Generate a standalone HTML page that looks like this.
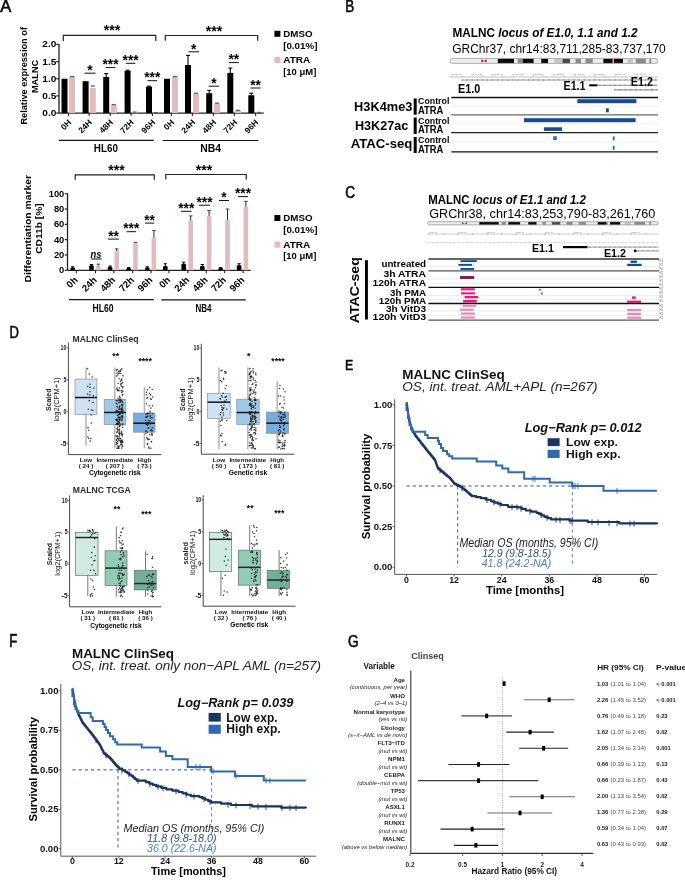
<!DOCTYPE html>
<html><head><meta charset="utf-8"><style>
html,body{margin:0;padding:0;background:#fff;}
svg{display:block;font-family:"Liberation Sans",sans-serif;will-change:transform;}
</style></head><body>
<svg width="685" height="880" viewBox="0 0 685 880">
<rect width="685" height="880" fill="#fff"/>
<text x="0.3" y="11.9" font-size="16.86" textLength="11" lengthAdjust="spacingAndGlyphs" stroke="#000" stroke-width="0.6" fill="#111">A</text>
<text x="345.3" y="11.7" font-size="16.57" textLength="9" lengthAdjust="spacingAndGlyphs" stroke="#000" stroke-width="0.6" fill="#111">B</text>
<text x="345.3" y="197.8" font-size="15.7" textLength="9.8" lengthAdjust="spacingAndGlyphs" stroke="#000" stroke-width="0.6" fill="#111">C</text>
<text x="9.6" y="337.7" font-size="16.13" textLength="9.4" lengthAdjust="spacingAndGlyphs" stroke="#000" stroke-width="0.6" fill="#111">D</text>
<text x="345" y="370.1" font-size="15.41" textLength="8.2" lengthAdjust="spacingAndGlyphs" stroke="#000" stroke-width="0.6" fill="#111">E</text>
<text x="9.3" y="646.8" font-size="17.44" textLength="8" lengthAdjust="spacingAndGlyphs" stroke="#000" stroke-width="0.6" fill="#111">F</text>
<text x="348" y="646.9" font-size="16.13" textLength="10.6" lengthAdjust="spacingAndGlyphs" stroke="#000" stroke-width="0.6" fill="#111">G</text>
<line x1="59" y1="44.1" x2="59" y2="113.1" stroke="#222" stroke-width="1.3"/>
<line x1="56.2" y1="113.1" x2="59" y2="113.1" stroke="#222" stroke-width="1.2"/>
<text x="42.3" y="116.06" font-size="8.6" textLength="14" lengthAdjust="spacingAndGlyphs" font-weight="bold">0.0</text>
<line x1="56.2" y1="95.92" x2="59" y2="95.92" stroke="#222" stroke-width="1.2"/>
<text x="42.3" y="98.88" font-size="8.6" textLength="14" lengthAdjust="spacingAndGlyphs" font-weight="bold">0.5</text>
<line x1="56.2" y1="78.75" x2="59" y2="78.75" stroke="#222" stroke-width="1.2"/>
<text x="42.3" y="81.71" font-size="8.6" textLength="14" lengthAdjust="spacingAndGlyphs" font-weight="bold">1.0</text>
<line x1="56.2" y1="61.57" x2="59" y2="61.57" stroke="#222" stroke-width="1.2"/>
<text x="42.3" y="64.53" font-size="8.6" textLength="14" lengthAdjust="spacingAndGlyphs" font-weight="bold">1.5</text>
<line x1="56.2" y1="44.4" x2="59" y2="44.4" stroke="#222" stroke-width="1.2"/>
<text x="42.3" y="47.36" font-size="8.6" textLength="14" lengthAdjust="spacingAndGlyphs" font-weight="bold">2.0</text>
<text x="27.3" y="75.8" font-size="9.1" font-weight="bold" text-anchor="middle" textLength="97.5" lengthAdjust="spacingAndGlyphs" transform="rotate(-90 27.3 75.8)">Relative expression of</text>
<text x="38" y="76.4" font-size="9.4" font-weight="bold" text-anchor="middle" textLength="33.4" lengthAdjust="spacingAndGlyphs" transform="rotate(-90 38 76.4)">MALNC</text>
<line x1="59" y1="113.1" x2="263.8" y2="113.1" stroke="#222" stroke-width="1.3"/>
<rect x="61.5" y="78.75" width="6" height="34.35" fill="#000"/>
<rect x="82.6" y="81.15" width="6" height="31.95" fill="#000"/>
<rect x="103.2" y="77.03" width="6" height="36.07" fill="#000"/>
<line x1="106.2" y1="73.6" x2="106.2" y2="77.03" stroke="#000" stroke-width="1.1"/>
<line x1="104.2" y1="73.6" x2="108.2" y2="73.6" stroke="#000" stroke-width="1.1"/>
<rect x="124.6" y="70.85" width="6" height="42.25" fill="#000"/>
<line x1="127.6" y1="70.16" x2="127.6" y2="70.85" stroke="#000" stroke-width="1.1"/>
<line x1="125.6" y1="70.16" x2="129.6" y2="70.16" stroke="#000" stroke-width="1.1"/>
<rect x="146" y="86.65" width="6" height="26.45" fill="#000"/>
<line x1="149" y1="86.14" x2="149" y2="86.65" stroke="#000" stroke-width="1.1"/>
<line x1="147" y1="86.14" x2="151" y2="86.14" stroke="#000" stroke-width="1.1"/>
<rect x="164" y="78.75" width="6" height="34.35" fill="#000"/>
<rect x="185" y="65.01" width="6" height="48.09" fill="#000"/>
<line x1="188" y1="55.39" x2="188" y2="65.01" stroke="#000" stroke-width="1.1"/>
<line x1="186" y1="55.39" x2="190" y2="55.39" stroke="#000" stroke-width="1.1"/>
<rect x="206.2" y="93.18" width="6" height="19.92" fill="#000"/>
<line x1="209.2" y1="90.43" x2="209.2" y2="93.18" stroke="#000" stroke-width="1.1"/>
<line x1="207.2" y1="90.43" x2="211.2" y2="90.43" stroke="#000" stroke-width="1.1"/>
<rect x="227.3" y="72.91" width="6" height="40.19" fill="#000"/>
<line x1="230.3" y1="68.1" x2="230.3" y2="72.91" stroke="#000" stroke-width="1.1"/>
<line x1="228.3" y1="68.1" x2="232.3" y2="68.1" stroke="#000" stroke-width="1.1"/>
<rect x="248.3" y="95.24" width="6" height="17.86" fill="#000"/>
<line x1="251.3" y1="93.18" x2="251.3" y2="95.24" stroke="#000" stroke-width="1.1"/>
<line x1="249.3" y1="93.18" x2="253.3" y2="93.18" stroke="#000" stroke-width="1.1"/>
<rect x="69.1" y="76.35" width="6" height="36.75" fill="#e2bcbc"/>
<line x1="70.1" y1="76.57" x2="74.1" y2="76.57" stroke="#2f6f86" stroke-width="1.3"/>
<rect x="89.8" y="88.02" width="6" height="25.08" fill="#e2bcbc"/>
<line x1="90.8" y1="86.02" x2="94.8" y2="86.02" stroke="#2f6f86" stroke-width="1.3"/>
<rect x="110.8" y="104.51" width="6" height="8.59" fill="#e2bcbc"/>
<line x1="111.8" y1="104.57" x2="115.8" y2="104.57" stroke="#2f6f86" stroke-width="1.3"/>
<rect x="131.7" y="112.07" width="6" height="1.03" fill="#e2bcbc"/>
<line x1="132.7" y1="112.13" x2="136.7" y2="112.13" stroke="#2f6f86" stroke-width="1.3"/>
<rect x="153" y="112.41" width="6" height="0.69" fill="#e2bcbc"/>
<line x1="154" y1="112.64" x2="158" y2="112.64" stroke="#2f6f86" stroke-width="1.3"/>
<rect x="172" y="76.35" width="6" height="36.75" fill="#e2bcbc"/>
<line x1="173" y1="76.57" x2="177" y2="76.57" stroke="#2f6f86" stroke-width="1.3"/>
<rect x="193" y="93.52" width="6" height="19.58" fill="#e2bcbc"/>
<line x1="194" y1="93.23" x2="198" y2="93.23" stroke="#2f6f86" stroke-width="1.3"/>
<rect x="214" y="103.48" width="6" height="9.62" fill="#e2bcbc"/>
<line x1="215" y1="103.19" x2="219" y2="103.19" stroke="#2f6f86" stroke-width="1.3"/>
<rect x="235" y="110.35" width="6" height="2.75" fill="#e2bcbc"/>
<line x1="236" y1="110.41" x2="240" y2="110.41" stroke="#2f6f86" stroke-width="1.3"/>
<rect x="256.2" y="112.41" width="6" height="0.69" fill="#e2bcbc"/>
<line x1="257.2" y1="112.47" x2="261.2" y2="112.47" stroke="#2f6f86" stroke-width="1.3"/>
<line x1="68.5" y1="113.1" x2="68.5" y2="116.1" stroke="#222" stroke-width="1.1"/>
<text x="71.8" y="123" font-size="8.4" font-weight="bold" text-anchor="end" transform="rotate(-45 71.8 123)">0H</text>
<line x1="171.4" y1="113.1" x2="171.4" y2="116.1" stroke="#222" stroke-width="1.1"/>
<text x="174.7" y="123" font-size="8.4" font-weight="bold" text-anchor="end" transform="rotate(-45 174.7 123)">0H</text>
<line x1="89.2" y1="113.1" x2="89.2" y2="116.1" stroke="#222" stroke-width="1.1"/>
<text x="92.5" y="123" font-size="8.4" font-weight="bold" text-anchor="end" transform="rotate(-45 92.5 123)">24H</text>
<line x1="192.4" y1="113.1" x2="192.4" y2="116.1" stroke="#222" stroke-width="1.1"/>
<text x="195.7" y="123" font-size="8.4" font-weight="bold" text-anchor="end" transform="rotate(-45 195.7 123)">24H</text>
<line x1="110.2" y1="113.1" x2="110.2" y2="116.1" stroke="#222" stroke-width="1.1"/>
<text x="113.5" y="123" font-size="8.4" font-weight="bold" text-anchor="end" transform="rotate(-45 113.5 123)">48H</text>
<line x1="213.4" y1="113.1" x2="213.4" y2="116.1" stroke="#222" stroke-width="1.1"/>
<text x="216.7" y="123" font-size="8.4" font-weight="bold" text-anchor="end" transform="rotate(-45 216.7 123)">48H</text>
<line x1="131.1" y1="113.1" x2="131.1" y2="116.1" stroke="#222" stroke-width="1.1"/>
<text x="134.4" y="123" font-size="8.4" font-weight="bold" text-anchor="end" transform="rotate(-45 134.4 123)">72H</text>
<line x1="234.4" y1="113.1" x2="234.4" y2="116.1" stroke="#222" stroke-width="1.1"/>
<text x="237.7" y="123" font-size="8.4" font-weight="bold" text-anchor="end" transform="rotate(-45 237.7 123)">72H</text>
<line x1="152.4" y1="113.1" x2="152.4" y2="116.1" stroke="#222" stroke-width="1.1"/>
<text x="155.7" y="123" font-size="8.4" font-weight="bold" text-anchor="end" transform="rotate(-45 155.7 123)">96H</text>
<line x1="255.6" y1="113.1" x2="255.6" y2="116.1" stroke="#222" stroke-width="1.1"/>
<text x="258.9" y="123" font-size="8.4" font-weight="bold" text-anchor="end" transform="rotate(-45 258.9 123)">96H</text>
<line x1="58.8" y1="140.3" x2="153.8" y2="140.3" stroke="#111" stroke-width="1.2"/>
<line x1="162.6" y1="140.5" x2="258.5" y2="140.5" stroke="#111" stroke-width="1.2"/>
<text x="93.8" y="151.8" font-size="10.47" textLength="24.1" lengthAdjust="spacingAndGlyphs" font-weight="bold">HL60</text>
<text x="200.2" y="151.8" font-size="10.47" textLength="20.8" lengthAdjust="spacingAndGlyphs" font-weight="bold">NB4</text>
<path d="M63.3 41V35.3H155.8V41" stroke="#222" stroke-width="1.2" fill="none"/>
<path d="M165.3 40.7V35.5H257.7V40.7" stroke="#222" stroke-width="1.2" fill="none"/>
<text x="112" y="35.4" font-size="14.2" text-anchor="middle" font-weight="bold">***</text>
<text x="214" y="35.6" font-size="14.2" text-anchor="middle" font-weight="bold">***</text>
<line x1="84.4" y1="73.2" x2="95.5" y2="73.2" stroke="#111" stroke-width="1"/>
<text x="89.95" y="74.97" font-size="13.8" text-anchor="middle" font-weight="bold">*</text>
<line x1="105.7" y1="67.6" x2="115.4" y2="67.6" stroke="#111" stroke-width="1"/>
<text x="110.55" y="69.37" font-size="13.8" text-anchor="middle" font-weight="bold">***</text>
<line x1="125.8" y1="63.3" x2="135.4" y2="63.3" stroke="#111" stroke-width="1"/>
<text x="130.6" y="65.07" font-size="13.8" text-anchor="middle" font-weight="bold">***</text>
<line x1="147.5" y1="80.7" x2="157.1" y2="80.7" stroke="#111" stroke-width="1"/>
<text x="152.3" y="82.47" font-size="13.8" text-anchor="middle" font-weight="bold">***</text>
<line x1="188.4" y1="51.8" x2="199" y2="51.8" stroke="#111" stroke-width="1"/>
<text x="193.7" y="53.57" font-size="13.8" text-anchor="middle" font-weight="bold">*</text>
<line x1="208.6" y1="86.2" x2="219.2" y2="86.2" stroke="#111" stroke-width="1"/>
<text x="213.9" y="87.97" font-size="13.8" text-anchor="middle" font-weight="bold">*</text>
<line x1="228.8" y1="62.6" x2="238.9" y2="62.6" stroke="#111" stroke-width="1"/>
<text x="233.85" y="64.37" font-size="13.8" text-anchor="middle" font-weight="bold">**</text>
<line x1="250.6" y1="88" x2="260.6" y2="88" stroke="#111" stroke-width="1"/>
<text x="255.6" y="89.77" font-size="13.8" text-anchor="middle" font-weight="bold">**</text>
<rect x="274.4" y="30.8" width="6" height="6" fill="#000"/>
<text x="283.2" y="36.8" font-size="9.59" textLength="29.4" lengthAdjust="spacingAndGlyphs" font-weight="bold">DMSO</text>
<text x="283.2" y="48.6" font-size="8.72" textLength="34.2" lengthAdjust="spacingAndGlyphs" font-weight="bold">[0.01%]</text>
<rect x="274.4" y="57.1" width="6" height="6" fill="#e2bcbc"/>
<text x="283.2" y="63.3" font-size="9.59" textLength="27.1" lengthAdjust="spacingAndGlyphs" font-weight="bold">ATRA</text>
<text x="283.2" y="74.9" font-size="8.72" textLength="33.1" lengthAdjust="spacingAndGlyphs" font-weight="bold">[10 μM]</text>
<rect x="274.4" y="215" width="6" height="6" fill="#000"/>
<text x="283.2" y="221" font-size="9.59" textLength="29.4" lengthAdjust="spacingAndGlyphs" font-weight="bold">DMSO</text>
<text x="283.2" y="232.8" font-size="8.72" textLength="34.2" lengthAdjust="spacingAndGlyphs" font-weight="bold">[0.01%]</text>
<rect x="274.4" y="241.6" width="6" height="6" fill="#e2bcbc"/>
<text x="283.2" y="247.8" font-size="9.59" textLength="27.1" lengthAdjust="spacingAndGlyphs" font-weight="bold">ATRA</text>
<text x="283.2" y="259.4" font-size="8.72" textLength="33.1" lengthAdjust="spacingAndGlyphs" font-weight="bold">[10 μM]</text>
<line x1="67.5" y1="193.2" x2="67.5" y2="270.3" stroke="#222" stroke-width="1.3"/>
<line x1="64.8" y1="270.3" x2="67.5" y2="270.3" stroke="#222" stroke-width="1.2"/>
<text x="59.1" y="273.4" font-size="9" textLength="5.2" lengthAdjust="spacingAndGlyphs" font-weight="bold">0</text>
<line x1="64.8" y1="254.98" x2="67.5" y2="254.98" stroke="#222" stroke-width="1.2"/>
<text x="53.9" y="258.08" font-size="9" textLength="10.4" lengthAdjust="spacingAndGlyphs" font-weight="bold">20</text>
<line x1="64.8" y1="239.66" x2="67.5" y2="239.66" stroke="#222" stroke-width="1.2"/>
<text x="53.9" y="242.76" font-size="9" textLength="10.4" lengthAdjust="spacingAndGlyphs" font-weight="bold">40</text>
<line x1="64.8" y1="224.34" x2="67.5" y2="224.34" stroke="#222" stroke-width="1.2"/>
<text x="53.9" y="227.44" font-size="9" textLength="10.4" lengthAdjust="spacingAndGlyphs" font-weight="bold">60</text>
<line x1="64.8" y1="209.02" x2="67.5" y2="209.02" stroke="#222" stroke-width="1.2"/>
<text x="53.9" y="212.12" font-size="9" textLength="10.4" lengthAdjust="spacingAndGlyphs" font-weight="bold">80</text>
<line x1="64.8" y1="193.7" x2="67.5" y2="193.7" stroke="#222" stroke-width="1.2"/>
<text x="48.7" y="196.8" font-size="9" textLength="15.6" lengthAdjust="spacingAndGlyphs" font-weight="bold">100</text>
<text x="30.6" y="228.8" font-size="9.6" font-weight="bold" text-anchor="middle" textLength="107.5" lengthAdjust="spacingAndGlyphs" transform="rotate(-90 30.6 228.8)">Differentiation marker</text>
<text x="42.4" y="228.6" font-size="9.6" font-weight="bold" text-anchor="middle" textLength="50.5" lengthAdjust="spacingAndGlyphs" transform="rotate(-90 42.4 228.6)">CD11b [%]</text>
<line x1="67.5" y1="270.3" x2="250.7" y2="270.3" stroke="#222" stroke-width="1.3"/>
<rect x="70.4" y="267.57" width="4.6" height="2.73" fill="#000" rx="1.2"/>
<line x1="72.7" y1="266.8" x2="72.7" y2="268.77" stroke="#000" stroke-width="1"/>
<line x1="71.1" y1="266.8" x2="74.3" y2="266.8" stroke="#000" stroke-width="1"/>
<rect x="89.2" y="265.27" width="4.6" height="5.03" fill="#000" rx="1.2"/>
<line x1="91.5" y1="264.5" x2="91.5" y2="266.47" stroke="#000" stroke-width="1"/>
<line x1="89.9" y1="264.5" x2="93.1" y2="264.5" stroke="#000" stroke-width="1"/>
<rect x="107.8" y="266.8" width="4.6" height="3.5" fill="#000" rx="1.2"/>
<line x1="110.1" y1="266.04" x2="110.1" y2="268" stroke="#000" stroke-width="1"/>
<line x1="108.5" y1="266.04" x2="111.7" y2="266.04" stroke="#000" stroke-width="1"/>
<rect x="126.4" y="267.95" width="4.6" height="2.35" fill="#000" rx="1.2"/>
<line x1="128.7" y1="267.57" x2="128.7" y2="269.15" stroke="#000" stroke-width="1"/>
<line x1="127.1" y1="267.57" x2="130.3" y2="267.57" stroke="#000" stroke-width="1"/>
<rect x="145" y="267.57" width="4.6" height="2.73" fill="#000" rx="1.2"/>
<line x1="147.3" y1="266.8" x2="147.3" y2="268.77" stroke="#000" stroke-width="1"/>
<line x1="145.7" y1="266.8" x2="148.9" y2="266.8" stroke="#000" stroke-width="1"/>
<rect x="163" y="266.04" width="4.6" height="4.26" fill="#000" rx="1.2"/>
<line x1="165.3" y1="263.74" x2="165.3" y2="267.24" stroke="#000" stroke-width="1"/>
<line x1="163.7" y1="263.74" x2="166.9" y2="263.74" stroke="#000" stroke-width="1"/>
<rect x="181.4" y="263.74" width="4.6" height="6.56" fill="#000" rx="1.2"/>
<line x1="183.7" y1="262.21" x2="183.7" y2="264.94" stroke="#000" stroke-width="1"/>
<line x1="182.1" y1="262.21" x2="185.3" y2="262.21" stroke="#000" stroke-width="1"/>
<rect x="200" y="266.04" width="4.6" height="4.26" fill="#000" rx="1.2"/>
<line x1="202.3" y1="264.5" x2="202.3" y2="267.24" stroke="#000" stroke-width="1"/>
<line x1="200.7" y1="264.5" x2="203.9" y2="264.5" stroke="#000" stroke-width="1"/>
<rect x="218.4" y="267.95" width="4.6" height="2.35" fill="#000" rx="1.2"/>
<line x1="220.7" y1="267.57" x2="220.7" y2="269.15" stroke="#000" stroke-width="1"/>
<line x1="219.1" y1="267.57" x2="222.3" y2="267.57" stroke="#000" stroke-width="1"/>
<rect x="236.8" y="265.27" width="4.6" height="5.03" fill="#000" rx="1.2"/>
<line x1="239.1" y1="263.74" x2="239.1" y2="266.47" stroke="#000" stroke-width="1"/>
<line x1="237.5" y1="263.74" x2="240.7" y2="263.74" stroke="#000" stroke-width="1"/>
<rect x="96" y="265.7" width="4.6" height="4.6" fill="#e2bcbc"/>
<line x1="98.3" y1="264.17" x2="98.3" y2="265.7" stroke="#222" stroke-width="1"/>
<line x1="96.5" y1="264.17" x2="100.1" y2="264.17" stroke="#444" stroke-width="1"/>
<rect x="114.4" y="251.15" width="4.6" height="19.15" fill="#e2bcbc"/>
<line x1="116.7" y1="248.85" x2="116.7" y2="251.15" stroke="#222" stroke-width="1"/>
<line x1="114.9" y1="248.85" x2="118.5" y2="248.85" stroke="#444" stroke-width="1"/>
<rect x="133.2" y="242.72" width="4.6" height="27.58" fill="#e2bcbc"/>
<line x1="135.5" y1="242.34" x2="135.5" y2="242.72" stroke="#222" stroke-width="1"/>
<line x1="133.7" y1="242.34" x2="137.3" y2="242.34" stroke="#444" stroke-width="1"/>
<rect x="151.6" y="237.36" width="4.6" height="32.94" fill="#e2bcbc"/>
<line x1="153.9" y1="230.47" x2="153.9" y2="237.36" stroke="#222" stroke-width="1"/>
<line x1="152.1" y1="230.47" x2="155.7" y2="230.47" stroke="#444" stroke-width="1"/>
<rect x="188.4" y="220.51" width="4.6" height="49.79" fill="#e2bcbc"/>
<line x1="190.7" y1="215.91" x2="190.7" y2="220.51" stroke="#222" stroke-width="1"/>
<line x1="188.9" y1="215.91" x2="192.5" y2="215.91" stroke="#444" stroke-width="1"/>
<rect x="206.8" y="215.91" width="4.6" height="54.39" fill="#e2bcbc"/>
<line x1="209.1" y1="210.55" x2="209.1" y2="215.91" stroke="#222" stroke-width="1"/>
<line x1="207.3" y1="210.55" x2="210.9" y2="210.55" stroke="#444" stroke-width="1"/>
<rect x="225.2" y="219.74" width="4.6" height="50.56" fill="#e2bcbc"/>
<line x1="227.5" y1="209.02" x2="227.5" y2="219.74" stroke="#222" stroke-width="1"/>
<line x1="225.7" y1="209.02" x2="229.3" y2="209.02" stroke="#444" stroke-width="1"/>
<rect x="243.6" y="206.72" width="4.6" height="63.58" fill="#e2bcbc"/>
<line x1="245.9" y1="201.36" x2="245.9" y2="206.72" stroke="#222" stroke-width="1"/>
<line x1="244.1" y1="201.36" x2="247.7" y2="201.36" stroke="#444" stroke-width="1"/>
<line x1="76.3" y1="270.3" x2="76.3" y2="273.3" stroke="#222" stroke-width="1.1"/>
<text x="78.3" y="280.6" font-size="9.6" font-weight="bold" text-anchor="end" transform="rotate(-45 78.3 280.6)">0h</text>
<line x1="168.9" y1="270.3" x2="168.9" y2="273.3" stroke="#222" stroke-width="1.1"/>
<text x="170.9" y="280.6" font-size="9.6" font-weight="bold" text-anchor="end" transform="rotate(-45 170.9 280.6)">0h</text>
<line x1="95.5" y1="270.3" x2="95.5" y2="273.3" stroke="#222" stroke-width="1.1"/>
<text x="97.5" y="280.6" font-size="9.6" font-weight="bold" text-anchor="end" transform="rotate(-45 97.5 280.6)">24h</text>
<line x1="187.9" y1="270.3" x2="187.9" y2="273.3" stroke="#222" stroke-width="1.1"/>
<text x="189.9" y="280.6" font-size="9.6" font-weight="bold" text-anchor="end" transform="rotate(-45 189.9 280.6)">24h</text>
<line x1="113.9" y1="270.3" x2="113.9" y2="273.3" stroke="#222" stroke-width="1.1"/>
<text x="115.9" y="280.6" font-size="9.6" font-weight="bold" text-anchor="end" transform="rotate(-45 115.9 280.6)">48h</text>
<line x1="206.3" y1="270.3" x2="206.3" y2="273.3" stroke="#222" stroke-width="1.1"/>
<text x="208.3" y="280.6" font-size="9.6" font-weight="bold" text-anchor="end" transform="rotate(-45 208.3 280.6)">48h</text>
<line x1="132.7" y1="270.3" x2="132.7" y2="273.3" stroke="#222" stroke-width="1.1"/>
<text x="134.7" y="280.6" font-size="9.6" font-weight="bold" text-anchor="end" transform="rotate(-45 134.7 280.6)">72h</text>
<line x1="224.7" y1="270.3" x2="224.7" y2="273.3" stroke="#222" stroke-width="1.1"/>
<text x="226.7" y="280.6" font-size="9.6" font-weight="bold" text-anchor="end" transform="rotate(-45 226.7 280.6)">72h</text>
<line x1="151.1" y1="270.3" x2="151.1" y2="273.3" stroke="#222" stroke-width="1.1"/>
<text x="153.1" y="280.6" font-size="9.6" font-weight="bold" text-anchor="end" transform="rotate(-45 153.1 280.6)">96h</text>
<line x1="243.1" y1="270.3" x2="243.1" y2="273.3" stroke="#222" stroke-width="1.1"/>
<text x="245.1" y="280.6" font-size="9.6" font-weight="bold" text-anchor="end" transform="rotate(-45 245.1 280.6)">96h</text>
<line x1="69" y1="299.6" x2="153.8" y2="299.6" stroke="#111" stroke-width="1.2"/>
<line x1="161.3" y1="299.8" x2="245.7" y2="299.8" stroke="#111" stroke-width="1.2"/>
<text x="92.5" y="311.6" font-size="10.17" textLength="21" lengthAdjust="spacingAndGlyphs" font-weight="bold">HL60</text>
<text x="195.5" y="311.6" font-size="10.17" textLength="16" lengthAdjust="spacingAndGlyphs" font-weight="bold">NB4</text>
<path d="M75.2 179.8V174.8H154.3V179.8" stroke="#222" stroke-width="1.2" fill="none"/>
<path d="M165.8 179.5V174.5H246.3V179.5" stroke="#222" stroke-width="1.2" fill="none"/>
<text x="116.6" y="174.8" font-size="14.2" text-anchor="middle" font-weight="bold">***</text>
<text x="204" y="174.5" font-size="14.2" text-anchor="middle" font-weight="bold">***</text>
<text x="90.6" y="257.6" font-size="11.5" font-weight="bold" font-style="italic" textLength="11" lengthAdjust="spacingAndGlyphs">ns</text>
<line x1="90.8" y1="259" x2="101.6" y2="259" stroke="#111" stroke-width="1"/>
<line x1="108" y1="239.1" x2="119.1" y2="239.1" stroke="#111" stroke-width="1"/>
<text x="113.55" y="240.87" font-size="13.8" text-anchor="middle" font-weight="bold">**</text>
<line x1="126.5" y1="231.7" x2="136.1" y2="231.7" stroke="#111" stroke-width="1"/>
<text x="131.3" y="233.47" font-size="13.8" text-anchor="middle" font-weight="bold">***</text>
<line x1="145" y1="223.1" x2="154.2" y2="223.1" stroke="#111" stroke-width="1"/>
<text x="149.6" y="224.87" font-size="13.8" text-anchor="middle" font-weight="bold">**</text>
<line x1="181" y1="211.3" x2="191.6" y2="211.3" stroke="#111" stroke-width="1"/>
<text x="186.3" y="213.07" font-size="13.8" text-anchor="middle" font-weight="bold">***</text>
<line x1="199" y1="205.2" x2="210" y2="205.2" stroke="#111" stroke-width="1"/>
<text x="204.5" y="206.97" font-size="13.8" text-anchor="middle" font-weight="bold">***</text>
<line x1="219" y1="200.5" x2="229" y2="200.5" stroke="#111" stroke-width="1"/>
<text x="224" y="202.27" font-size="13.8" text-anchor="middle" font-weight="bold">*</text>
<line x1="238" y1="196.6" x2="248" y2="196.6" stroke="#111" stroke-width="1"/>
<text x="243" y="198.37" font-size="13.8" text-anchor="middle" font-weight="bold">***</text>
<text x="452.4" y="37.4" font-size="12.79" font-weight="bold" textLength="185.2" lengthAdjust="spacingAndGlyphs">MALNC <tspan font-style="italic">locus of E1.0, 1.1 and 1.2</tspan></text>
<text x="452.2" y="52.7" font-size="12.5" textLength="213.6" lengthAdjust="spacingAndGlyphs">GRChr37, chr14:83,711,285-83,737,170</text>
<clipPath id="c58"><rect x="450.2" y="58.4" width="207.4" height="5" rx="2.5"/></clipPath>
<g clip-path="url(#c58)">
<rect x="450.2" y="58.4" width="207.4" height="5" fill="#ececec"/>
<rect x="497.8" y="58.4" width="16.2" height="5" fill="#0a0a0a"/>
<rect x="517.7" y="58.4" width="5.1" height="5" fill="#8a8a8a"/>
<rect x="522.8" y="58.4" width="10.8" height="5" fill="#0a0a0a"/>
<rect x="541.2" y="58.4" width="6.8" height="5" fill="#0a0a0a"/>
<rect x="554.4" y="58.4" width="8.2" height="5" fill="#c4c4c4"/>
<rect x="562.6" y="58.4" width="7.4" height="5" fill="#4a4a4a"/>
<rect x="575.5" y="58.4" width="5.5" height="5" fill="#8a8a8a"/>
<rect x="585.5" y="58.4" width="7.3" height="5" fill="#8a8a8a"/>
<rect x="603.4" y="58.4" width="8.6" height="5" fill="#0a0a0a"/>
<rect x="612" y="58.4" width="1" height="5" fill="#c0302a"/>
<rect x="613.8" y="58.4" width="9.2" height="5" fill="#0a0a0a"/>
<rect x="627.5" y="58.4" width="5.5" height="5" fill="#c4c4c4"/>
<rect x="635.7" y="58.4" width="10.1" height="5" fill="#8a8a8a"/>
<rect x="649.4" y="58.4" width="1.8" height="5" fill="#8a8a8a"/>
</g>
<rect x="450.2" y="58.4" width="207.4" height="5" rx="2.5" fill="none" stroke="#9a9a9a" stroke-width="0.8"/>
<path d="M481.4 59L484 60.9L481.4 62.8ZM486.6 59L484 60.9L486.6 62.8Z" stroke="none" stroke-width="0" fill="#b0202a"/>
<text x="451" y="74.6" font-size="2.4" textLength="11" lengthAdjust="spacingAndGlyphs" fill="#777">83,710 kb</text>
<text x="471.4" y="74.6" font-size="2.4" textLength="11" lengthAdjust="spacingAndGlyphs" fill="#777">83,710 kb</text>
<text x="491.8" y="74.6" font-size="2.4" textLength="11" lengthAdjust="spacingAndGlyphs" fill="#777">83,710 kb</text>
<text x="512.2" y="74.6" font-size="2.4" textLength="11" lengthAdjust="spacingAndGlyphs" fill="#777">83,710 kb</text>
<text x="532.6" y="74.6" font-size="2.4" textLength="11" lengthAdjust="spacingAndGlyphs" fill="#777">83,710 kb</text>
<text x="553" y="74.6" font-size="2.4" textLength="11" lengthAdjust="spacingAndGlyphs" fill="#777">83,710 kb</text>
<text x="573.4" y="74.6" font-size="2.4" textLength="11" lengthAdjust="spacingAndGlyphs" fill="#777">83,710 kb</text>
<text x="593.8" y="74.6" font-size="2.4" textLength="11" lengthAdjust="spacingAndGlyphs" fill="#777">83,710 kb</text>
<text x="614.2" y="74.6" font-size="2.4" textLength="11" lengthAdjust="spacingAndGlyphs" fill="#777">83,710 kb</text>
<text x="634.6" y="74.6" font-size="2.4" textLength="11" lengthAdjust="spacingAndGlyphs" fill="#777">83,710 kb</text>
<line x1="450.2" y1="77" x2="657.6" y2="77" stroke="#999" stroke-width="0.6"/>
<line x1="452" y1="75.8" x2="452" y2="77" stroke="#999" stroke-width="0.5"/>
<line x1="462.2" y1="75.8" x2="462.2" y2="77" stroke="#999" stroke-width="0.5"/>
<line x1="472.4" y1="75.8" x2="472.4" y2="77" stroke="#999" stroke-width="0.5"/>
<line x1="482.6" y1="75.8" x2="482.6" y2="77" stroke="#999" stroke-width="0.5"/>
<line x1="492.8" y1="75.8" x2="492.8" y2="77" stroke="#999" stroke-width="0.5"/>
<line x1="503" y1="75.8" x2="503" y2="77" stroke="#999" stroke-width="0.5"/>
<line x1="513.2" y1="75.8" x2="513.2" y2="77" stroke="#999" stroke-width="0.5"/>
<line x1="523.4" y1="75.8" x2="523.4" y2="77" stroke="#999" stroke-width="0.5"/>
<line x1="533.6" y1="75.8" x2="533.6" y2="77" stroke="#999" stroke-width="0.5"/>
<line x1="543.8" y1="75.8" x2="543.8" y2="77" stroke="#999" stroke-width="0.5"/>
<line x1="554" y1="75.8" x2="554" y2="77" stroke="#999" stroke-width="0.5"/>
<line x1="564.2" y1="75.8" x2="564.2" y2="77" stroke="#999" stroke-width="0.5"/>
<line x1="574.4" y1="75.8" x2="574.4" y2="77" stroke="#999" stroke-width="0.5"/>
<line x1="584.6" y1="75.8" x2="584.6" y2="77" stroke="#999" stroke-width="0.5"/>
<line x1="594.8" y1="75.8" x2="594.8" y2="77" stroke="#999" stroke-width="0.5"/>
<line x1="605" y1="75.8" x2="605" y2="77" stroke="#999" stroke-width="0.5"/>
<line x1="615.2" y1="75.8" x2="615.2" y2="77" stroke="#999" stroke-width="0.5"/>
<line x1="625.4" y1="75.8" x2="625.4" y2="77" stroke="#999" stroke-width="0.5"/>
<line x1="635.6" y1="75.8" x2="635.6" y2="77" stroke="#999" stroke-width="0.5"/>
<line x1="645.8" y1="75.8" x2="645.8" y2="77" stroke="#999" stroke-width="0.5"/>
<line x1="656" y1="75.8" x2="656" y2="77" stroke="#999" stroke-width="0.5"/>
<line x1="462" y1="80" x2="657.6" y2="80" stroke="#555" stroke-width="0.6"/>
<line x1="462" y1="79.2" x2="462" y2="80.8" stroke="#555" stroke-width="0.5"/>
<line x1="467.1" y1="79.2" x2="467.1" y2="80.8" stroke="#555" stroke-width="0.5"/>
<line x1="472.2" y1="79.2" x2="472.2" y2="80.8" stroke="#555" stroke-width="0.5"/>
<line x1="477.3" y1="79.2" x2="477.3" y2="80.8" stroke="#555" stroke-width="0.5"/>
<line x1="482.4" y1="79.2" x2="482.4" y2="80.8" stroke="#555" stroke-width="0.5"/>
<line x1="487.5" y1="79.2" x2="487.5" y2="80.8" stroke="#555" stroke-width="0.5"/>
<line x1="492.6" y1="79.2" x2="492.6" y2="80.8" stroke="#555" stroke-width="0.5"/>
<line x1="497.7" y1="79.2" x2="497.7" y2="80.8" stroke="#555" stroke-width="0.5"/>
<line x1="502.8" y1="79.2" x2="502.8" y2="80.8" stroke="#555" stroke-width="0.5"/>
<line x1="507.9" y1="79.2" x2="507.9" y2="80.8" stroke="#555" stroke-width="0.5"/>
<line x1="513" y1="79.2" x2="513" y2="80.8" stroke="#555" stroke-width="0.5"/>
<line x1="518.1" y1="79.2" x2="518.1" y2="80.8" stroke="#555" stroke-width="0.5"/>
<line x1="523.2" y1="79.2" x2="523.2" y2="80.8" stroke="#555" stroke-width="0.5"/>
<line x1="528.3" y1="79.2" x2="528.3" y2="80.8" stroke="#555" stroke-width="0.5"/>
<line x1="533.4" y1="79.2" x2="533.4" y2="80.8" stroke="#555" stroke-width="0.5"/>
<line x1="538.5" y1="79.2" x2="538.5" y2="80.8" stroke="#555" stroke-width="0.5"/>
<line x1="543.6" y1="79.2" x2="543.6" y2="80.8" stroke="#555" stroke-width="0.5"/>
<line x1="548.7" y1="79.2" x2="548.7" y2="80.8" stroke="#555" stroke-width="0.5"/>
<line x1="553.8" y1="79.2" x2="553.8" y2="80.8" stroke="#555" stroke-width="0.5"/>
<line x1="558.9" y1="79.2" x2="558.9" y2="80.8" stroke="#555" stroke-width="0.5"/>
<line x1="564" y1="79.2" x2="564" y2="80.8" stroke="#555" stroke-width="0.5"/>
<line x1="569.1" y1="79.2" x2="569.1" y2="80.8" stroke="#555" stroke-width="0.5"/>
<line x1="574.2" y1="79.2" x2="574.2" y2="80.8" stroke="#555" stroke-width="0.5"/>
<line x1="579.3" y1="79.2" x2="579.3" y2="80.8" stroke="#555" stroke-width="0.5"/>
<line x1="584.4" y1="79.2" x2="584.4" y2="80.8" stroke="#555" stroke-width="0.5"/>
<line x1="589.5" y1="79.2" x2="589.5" y2="80.8" stroke="#555" stroke-width="0.5"/>
<line x1="594.6" y1="79.2" x2="594.6" y2="80.8" stroke="#555" stroke-width="0.5"/>
<line x1="599.7" y1="79.2" x2="599.7" y2="80.8" stroke="#555" stroke-width="0.5"/>
<line x1="604.8" y1="79.2" x2="604.8" y2="80.8" stroke="#555" stroke-width="0.5"/>
<line x1="609.9" y1="79.2" x2="609.9" y2="80.8" stroke="#555" stroke-width="0.5"/>
<line x1="615" y1="79.2" x2="615" y2="80.8" stroke="#555" stroke-width="0.5"/>
<line x1="620.1" y1="79.2" x2="620.1" y2="80.8" stroke="#555" stroke-width="0.5"/>
<line x1="625.2" y1="79.2" x2="625.2" y2="80.8" stroke="#555" stroke-width="0.5"/>
<line x1="630.3" y1="79.2" x2="630.3" y2="80.8" stroke="#555" stroke-width="0.5"/>
<line x1="635.4" y1="79.2" x2="635.4" y2="80.8" stroke="#555" stroke-width="0.5"/>
<line x1="640.5" y1="79.2" x2="640.5" y2="80.8" stroke="#555" stroke-width="0.5"/>
<line x1="645.6" y1="79.2" x2="645.6" y2="80.8" stroke="#555" stroke-width="0.5"/>
<line x1="650.7" y1="79.2" x2="650.7" y2="80.8" stroke="#555" stroke-width="0.5"/>
<line x1="655.8" y1="79.2" x2="655.8" y2="80.8" stroke="#555" stroke-width="0.5"/>
<text x="458" y="93.2" font-size="11.92" textLength="22.3" lengthAdjust="spacingAndGlyphs" font-weight="bold">E1.0</text>
<text x="563.6" y="89.9" font-size="12.79" textLength="21.9" lengthAdjust="spacingAndGlyphs" font-weight="bold">E1.1</text>
<text x="630.8" y="85.7" font-size="11.92" textLength="22.2" lengthAdjust="spacingAndGlyphs" font-weight="bold">E1.2</text>
<line x1="589.2" y1="85.3" x2="597.4" y2="85.3" stroke="#000" stroke-width="2"/>
<line x1="597" y1="85.3" x2="657.6" y2="85.3" stroke="#444" stroke-width="0.6"/>
<line x1="600" y1="84.6" x2="600" y2="86" stroke="#444" stroke-width="0.5"/>
<line x1="605" y1="84.6" x2="605" y2="86" stroke="#444" stroke-width="0.5"/>
<line x1="610" y1="84.6" x2="610" y2="86" stroke="#444" stroke-width="0.5"/>
<line x1="615" y1="84.6" x2="615" y2="86" stroke="#444" stroke-width="0.5"/>
<line x1="620" y1="84.6" x2="620" y2="86" stroke="#444" stroke-width="0.5"/>
<line x1="625" y1="84.6" x2="625" y2="86" stroke="#444" stroke-width="0.5"/>
<line x1="630" y1="84.6" x2="630" y2="86" stroke="#444" stroke-width="0.5"/>
<line x1="635" y1="84.6" x2="635" y2="86" stroke="#444" stroke-width="0.5"/>
<line x1="640" y1="84.6" x2="640" y2="86" stroke="#444" stroke-width="0.5"/>
<line x1="645" y1="84.6" x2="645" y2="86" stroke="#444" stroke-width="0.5"/>
<line x1="650" y1="84.6" x2="650" y2="86" stroke="#444" stroke-width="0.5"/>
<line x1="655" y1="84.6" x2="655" y2="86" stroke="#444" stroke-width="0.5"/>
<line x1="614.4" y1="89.9" x2="657.6" y2="89.9" stroke="#444" stroke-width="0.7"/>
<line x1="614.4" y1="89" x2="614.4" y2="90.4" stroke="#444" stroke-width="0.5"/>
<line x1="619.7" y1="89" x2="619.7" y2="90.4" stroke="#444" stroke-width="0.5"/>
<line x1="625" y1="89" x2="625" y2="90.4" stroke="#444" stroke-width="0.5"/>
<line x1="630.3" y1="89" x2="630.3" y2="90.4" stroke="#444" stroke-width="0.5"/>
<line x1="635.6" y1="89" x2="635.6" y2="90.4" stroke="#444" stroke-width="0.5"/>
<line x1="640.9" y1="89" x2="640.9" y2="90.4" stroke="#444" stroke-width="0.5"/>
<line x1="646.2" y1="89" x2="646.2" y2="90.4" stroke="#444" stroke-width="0.5"/>
<line x1="651.5" y1="89" x2="651.5" y2="90.4" stroke="#444" stroke-width="0.5"/>
<line x1="656.8" y1="89" x2="656.8" y2="90.4" stroke="#444" stroke-width="0.5"/>
<line x1="451.3" y1="97.5" x2="658" y2="97.5" stroke="#111" stroke-width="1.3"/>
<line x1="451.3" y1="114.8" x2="658" y2="114.8" stroke="#666" stroke-width="1.2"/>
<line x1="451.3" y1="132.7" x2="658" y2="132.7" stroke="#222" stroke-width="1.2"/>
<line x1="451.3" y1="151.8" x2="658" y2="151.8" stroke="#111" stroke-width="1.3"/>
<line x1="451.3" y1="106" x2="658" y2="106" stroke="#e4e4e4" stroke-width="0.6"/>
<line x1="451.3" y1="123.8" x2="658" y2="123.8" stroke="#e4e4e4" stroke-width="0.6"/>
<line x1="451.3" y1="142.2" x2="658" y2="142.2" stroke="#e4e4e4" stroke-width="0.6"/>
<text x="354.1" y="110.9" font-size="13.23" textLength="58.3" lengthAdjust="spacingAndGlyphs" font-weight="bold">H3K4me3</text>
<text x="354.9" y="129.8" font-size="13.66" textLength="53.3" lengthAdjust="spacingAndGlyphs" font-weight="bold">H3K27ac</text>
<text x="350.7" y="147.9" font-size="11.92" textLength="61.7" lengthAdjust="spacingAndGlyphs" font-weight="bold">ATAC-seq</text>
<rect x="413.7" y="98.5" width="3" height="16.2" fill="#000"/>
<rect x="413.7" y="117.5" width="3" height="16.5" fill="#000"/>
<rect x="413.7" y="137" width="3" height="16" fill="#000"/>
<text x="418" y="104.2" font-size="9.59" textLength="31.4" lengthAdjust="spacingAndGlyphs" font-weight="bold">Control</text>
<text x="418" y="113.7" font-size="10.17" textLength="25.3" lengthAdjust="spacingAndGlyphs" font-weight="bold">ATRA</text>
<text x="418" y="123.5" font-size="9.59" textLength="31.4" lengthAdjust="spacingAndGlyphs" font-weight="bold">Control</text>
<text x="418" y="133" font-size="10.17" textLength="25.3" lengthAdjust="spacingAndGlyphs" font-weight="bold">ATRA</text>
<text x="418" y="143.1" font-size="9.59" textLength="31.4" lengthAdjust="spacingAndGlyphs" font-weight="bold">Control</text>
<text x="418" y="152.6" font-size="10.17" textLength="25.3" lengthAdjust="spacingAndGlyphs" font-weight="bold">ATRA</text>
<rect x="577.3" y="99.2" width="59.1" height="4" fill="#174a8e"/>
<rect x="606" y="108.3" width="2.8" height="4" fill="#174a8e"/>
<rect x="524" y="118.2" width="111.6" height="4" fill="#174a8e"/>
<rect x="543.9" y="127.3" width="18.1" height="3.6" fill="#174a8e"/>
<rect x="553.2" y="136.2" width="3.6" height="3.8" fill="#1f8a80"/>
<rect x="612.7" y="136.4" width="2" height="4" fill="#1f8a80"/>
<rect x="612.7" y="145.8" width="2" height="4" fill="#1f8a80"/>
<text x="428.2" y="203.9" font-size="11.92" font-weight="bold" textLength="157.7" lengthAdjust="spacingAndGlyphs">MALNC <tspan font-style="italic">locus of E1.1 and 1.2</tspan></text>
<text x="429.2" y="218" font-size="12.5" textLength="226.2" lengthAdjust="spacingAndGlyphs">GRChr38, chr14:83,253,790-83,261,760</text>
<clipPath id="c221"><rect x="427.6" y="221.7" width="230.8" height="3.2" rx="1.6"/></clipPath>
<g clip-path="url(#c221)">
<rect x="427.6" y="221.7" width="230.8" height="3.2" fill="#ececec"/>
<rect x="479.3" y="221.7" width="19.4" height="3.2" fill="#0a0a0a"/>
<rect x="501.7" y="221.7" width="4.1" height="3.2" fill="#8a8a8a"/>
<rect x="508.3" y="221.7" width="11.8" height="3.2" fill="#0a0a0a"/>
<rect x="528.3" y="221.7" width="8.2" height="3.2" fill="#0a0a0a"/>
<rect x="542.6" y="221.7" width="3.1" height="3.2" fill="#8a8a8a"/>
<rect x="551.8" y="221.7" width="8.5" height="3.2" fill="#4a4a4a"/>
<rect x="566.5" y="221.7" width="6.1" height="3.2" fill="#8a8a8a"/>
<rect x="578.7" y="221.7" width="7.2" height="3.2" fill="#8a8a8a"/>
<rect x="597.7" y="221.7" width="8.6" height="3.2" fill="#0a0a0a"/>
<rect x="606.3" y="221.7" width="1.2" height="3.2" fill="#c0302a"/>
<rect x="610" y="221.7" width="10.2" height="3.2" fill="#0a0a0a"/>
<rect x="624.7" y="221.7" width="6.1" height="3.2" fill="#c4c4c4"/>
<rect x="634.3" y="221.7" width="10.8" height="3.2" fill="#8a8a8a"/>
<rect x="649.2" y="221.7" width="1.7" height="3.2" fill="#8a8a8a"/>
</g>
<rect x="427.6" y="221.7" width="230.8" height="3.2" rx="1.6" fill="none" stroke="#9a9a9a" stroke-width="0.8"/>
<path d="M461.9 222.3L464.5 223.3L461.9 224.3ZM467.1 222.3L464.5 223.3L467.1 224.3Z" stroke="none" stroke-width="0" fill="#b0202a"/>
<text x="429.2" y="233" font-size="2.2" textLength="8.2" lengthAdjust="spacingAndGlyphs" fill="#888">83,254 kb</text>
<text x="458.1" y="233" font-size="2.2" textLength="8.2" lengthAdjust="spacingAndGlyphs" fill="#888">83,254 kb</text>
<text x="487" y="233" font-size="2.2" textLength="8.2" lengthAdjust="spacingAndGlyphs" fill="#888">83,254 kb</text>
<text x="515.9" y="233" font-size="2.2" textLength="8.2" lengthAdjust="spacingAndGlyphs" fill="#888">83,254 kb</text>
<text x="544.8" y="233" font-size="2.2" textLength="8.2" lengthAdjust="spacingAndGlyphs" fill="#888">83,254 kb</text>
<text x="573.7" y="233" font-size="2.2" textLength="8.2" lengthAdjust="spacingAndGlyphs" fill="#888">83,254 kb</text>
<text x="602.6" y="233" font-size="2.2" textLength="8.2" lengthAdjust="spacingAndGlyphs" fill="#888">83,254 kb</text>
<text x="631.5" y="233" font-size="2.2" textLength="8.2" lengthAdjust="spacingAndGlyphs" fill="#888">83,254 kb</text>
<line x1="427.6" y1="234" x2="658.4" y2="234" stroke="#aaa" stroke-width="0.6"/>
<line x1="429.2" y1="233.2" x2="429.2" y2="234.6" stroke="#888" stroke-width="0.6"/>
<line x1="443.65" y1="233.2" x2="443.65" y2="234.6" stroke="#888" stroke-width="0.6"/>
<line x1="458.1" y1="233.2" x2="458.1" y2="234.6" stroke="#888" stroke-width="0.6"/>
<line x1="472.55" y1="233.2" x2="472.55" y2="234.6" stroke="#888" stroke-width="0.6"/>
<line x1="487" y1="233.2" x2="487" y2="234.6" stroke="#888" stroke-width="0.6"/>
<line x1="501.45" y1="233.2" x2="501.45" y2="234.6" stroke="#888" stroke-width="0.6"/>
<line x1="515.9" y1="233.2" x2="515.9" y2="234.6" stroke="#888" stroke-width="0.6"/>
<line x1="530.35" y1="233.2" x2="530.35" y2="234.6" stroke="#888" stroke-width="0.6"/>
<line x1="544.8" y1="233.2" x2="544.8" y2="234.6" stroke="#888" stroke-width="0.6"/>
<line x1="559.25" y1="233.2" x2="559.25" y2="234.6" stroke="#888" stroke-width="0.6"/>
<line x1="573.7" y1="233.2" x2="573.7" y2="234.6" stroke="#888" stroke-width="0.6"/>
<line x1="588.15" y1="233.2" x2="588.15" y2="234.6" stroke="#888" stroke-width="0.6"/>
<line x1="602.6" y1="233.2" x2="602.6" y2="234.6" stroke="#888" stroke-width="0.6"/>
<line x1="617.05" y1="233.2" x2="617.05" y2="234.6" stroke="#888" stroke-width="0.6"/>
<line x1="631.5" y1="233.2" x2="631.5" y2="234.6" stroke="#888" stroke-width="0.6"/>
<line x1="645.95" y1="233.2" x2="645.95" y2="234.6" stroke="#888" stroke-width="0.6"/>
<line x1="427.6" y1="242.7" x2="658.4" y2="242.7" stroke="#777" stroke-width="0.5" stroke-dasharray="0.8 3.6"/>
<line x1="427.6" y1="242.7" x2="658.4" y2="242.7" stroke="#bbb" stroke-width="0.4"/>
<text x="532" y="251.7" font-size="10.03" textLength="21.9" lengthAdjust="spacingAndGlyphs" font-weight="bold">E1.1</text>
<text x="603.9" y="257" font-size="11.19" textLength="22.2" lengthAdjust="spacingAndGlyphs" font-weight="bold">E1.2</text>
<line x1="563" y1="247.1" x2="587.5" y2="247.1" stroke="#000" stroke-width="2.2"/>
<line x1="587.5" y1="247.1" x2="658.4" y2="247.1" stroke="#555" stroke-width="0.6"/>
<line x1="590" y1="246.4" x2="590" y2="247.8" stroke="#555" stroke-width="0.5"/>
<line x1="595" y1="246.4" x2="595" y2="247.8" stroke="#555" stroke-width="0.5"/>
<line x1="600" y1="246.4" x2="600" y2="247.8" stroke="#555" stroke-width="0.5"/>
<line x1="605" y1="246.4" x2="605" y2="247.8" stroke="#555" stroke-width="0.5"/>
<line x1="610" y1="246.4" x2="610" y2="247.8" stroke="#555" stroke-width="0.5"/>
<line x1="615" y1="246.4" x2="615" y2="247.8" stroke="#555" stroke-width="0.5"/>
<line x1="620" y1="246.4" x2="620" y2="247.8" stroke="#555" stroke-width="0.5"/>
<line x1="625" y1="246.4" x2="625" y2="247.8" stroke="#555" stroke-width="0.5"/>
<line x1="630" y1="246.4" x2="630" y2="247.8" stroke="#555" stroke-width="0.5"/>
<line x1="635" y1="246.4" x2="635" y2="247.8" stroke="#555" stroke-width="0.5"/>
<line x1="640" y1="246.4" x2="640" y2="247.8" stroke="#555" stroke-width="0.5"/>
<line x1="645" y1="246.4" x2="645" y2="247.8" stroke="#555" stroke-width="0.5"/>
<line x1="650" y1="246.4" x2="650" y2="247.8" stroke="#555" stroke-width="0.5"/>
<line x1="655" y1="246.4" x2="655" y2="247.8" stroke="#555" stroke-width="0.5"/>
<circle cx="635.2" cy="250.9" r="1.4" fill="#000"/>
<line x1="635.2" y1="250.9" x2="658.4" y2="250.9" stroke="#555" stroke-width="0.6"/>
<line x1="638" y1="250.2" x2="638" y2="251.6" stroke="#555" stroke-width="0.5"/>
<line x1="643" y1="250.2" x2="643" y2="251.6" stroke="#555" stroke-width="0.5"/>
<line x1="648" y1="250.2" x2="648" y2="251.6" stroke="#555" stroke-width="0.5"/>
<line x1="653" y1="250.2" x2="653" y2="251.6" stroke="#555" stroke-width="0.5"/>
<line x1="658" y1="250.2" x2="658" y2="251.6" stroke="#555" stroke-width="0.5"/>
<line x1="428.4" y1="258.9" x2="659" y2="258.9" stroke="#333" stroke-width="1.5"/>
<line x1="428.4" y1="270.8" x2="659" y2="270.8" stroke="#555" stroke-width="1.3"/>
<line x1="428.4" y1="287.4" x2="659" y2="287.4" stroke="#111" stroke-width="1.3"/>
<line x1="428.4" y1="303.5" x2="659" y2="303.5" stroke="#111" stroke-width="1.3"/>
<line x1="428.4" y1="320.1" x2="659" y2="320.1" stroke="#555" stroke-width="1.4"/>
<line x1="428.4" y1="266.2" x2="659" y2="266.2" stroke="#dedede" stroke-width="0.6"/>
<line x1="428.4" y1="279" x2="659" y2="279" stroke="#dedede" stroke-width="0.6"/>
<line x1="428.4" y1="283.2" x2="659" y2="283.2" stroke="#dedede" stroke-width="0.6"/>
<line x1="428.4" y1="295.4" x2="659" y2="295.4" stroke="#dedede" stroke-width="0.6"/>
<line x1="428.4" y1="299.4" x2="659" y2="299.4" stroke="#dedede" stroke-width="0.6"/>
<line x1="428.4" y1="311" x2="659" y2="311" stroke="#dedede" stroke-width="0.6"/>
<line x1="428.4" y1="315.4" x2="659" y2="315.4" stroke="#dedede" stroke-width="0.6"/>
<text x="359" y="290.2" font-size="13.7" font-weight="bold" text-anchor="middle" textLength="66" lengthAdjust="spacingAndGlyphs" transform="rotate(-90 359 290.2)">ATAC-seq</text>
<rect x="365" y="260.2" width="2.9" height="59.3" fill="#000"/>
<text x="381.4" y="266.8" font-size="9.2" textLength="44.7" lengthAdjust="spacingAndGlyphs" font-weight="bold">untreated</text>
<text x="383.4" y="277.2" font-size="9.2" textLength="42.7" lengthAdjust="spacingAndGlyphs" font-weight="bold">3h ATRA</text>
<text x="372.6" y="285.8" font-size="9.2" textLength="53.5" lengthAdjust="spacingAndGlyphs" font-weight="bold">120h ATRA</text>
<text x="390" y="296" font-size="9.2" textLength="36.1" lengthAdjust="spacingAndGlyphs" font-weight="bold">3h PMA</text>
<text x="378.7" y="303.5" font-size="9.2" textLength="47.4" lengthAdjust="spacingAndGlyphs" font-weight="bold">120h PMA</text>
<text x="385.9" y="312.3" font-size="9.2" textLength="40.2" lengthAdjust="spacingAndGlyphs" font-weight="bold">3h VitD3</text>
<text x="372.6" y="320.1" font-size="9.2" textLength="53.5" lengthAdjust="spacingAndGlyphs" font-weight="bold">120h VitD3</text>
<rect x="460.5" y="260.2" width="16.3" height="1.9" fill="#0f4b92"/>
<rect x="458.4" y="263.9" width="13.7" height="1.9" fill="#0f4b92"/>
<rect x="460.5" y="268" width="13.7" height="1.9" fill="#0f4b92"/>
<rect x="630.6" y="260.6" width="6.3" height="2.3" fill="#0f4b92"/>
<rect x="627.2" y="263.8" width="14.4" height="2.2" fill="#0f4b92"/>
<rect x="460" y="276.1" width="14.2" height="2.8" fill="#8a0b46"/>
<rect x="461" y="288.2" width="13.8" height="2.2" fill="#e6197f"/>
<rect x="461" y="292.3" width="14.2" height="2.1" fill="#e6197f"/>
<rect x="464.6" y="296" width="13.7" height="2.4" fill="#e6197f"/>
<rect x="463.1" y="300" width="13.7" height="2.6" fill="#e6197f"/>
<rect x="632" y="296.4" width="3.8" height="2.4" fill="#e6197f"/>
<rect x="627.2" y="300.6" width="13.9" height="2.4" fill="#e6197f"/>
<rect x="539.2" y="288.8" width="1.8" height="1.8" fill="#e6197f"/>
<rect x="541" y="292.7" width="1.6" height="1.9" fill="#e6197f"/>
<rect x="462.5" y="304.8" width="13.7" height="2.1" fill="#e889b6"/>
<rect x="460" y="308.7" width="13.8" height="2.1" fill="#e889b6"/>
<rect x="461" y="312.5" width="13.8" height="2.2" fill="#e889b6"/>
<rect x="461" y="316.4" width="13.8" height="2.2" fill="#e889b6"/>
<rect x="627.2" y="309" width="13.9" height="2.2" fill="#e889b6"/>
<rect x="627.2" y="312.8" width="13.9" height="2.2" fill="#e889b6"/>
<rect x="627.2" y="316.6" width="13.9" height="2.2" fill="#e889b6"/>
<text x="659.5" y="261.7" font-size="2.8" fill="#666">R1</text>
<text x="659.5" y="265.7" font-size="2.8" fill="#666">R2</text>
<text x="659.5" y="269.7" font-size="2.8" fill="#666">R1</text>
<text x="659.5" y="273.7" font-size="2.8" fill="#666">R2</text>
<text x="659.5" y="277.7" font-size="2.8" fill="#666">R1</text>
<text x="659.5" y="281.7" font-size="2.8" fill="#666">R2</text>
<text x="659.5" y="285.7" font-size="2.8" fill="#666">R1</text>
<text x="659.5" y="290.2" font-size="2.8" fill="#666">R2</text>
<text x="659.5" y="294.2" font-size="2.8" fill="#666">R1</text>
<text x="659.5" y="298.2" font-size="2.8" fill="#666">R2</text>
<text x="659.5" y="302.2" font-size="2.8" fill="#666">R1</text>
<text x="659.5" y="306.7" font-size="2.8" fill="#666">R2</text>
<text x="659.5" y="310.7" font-size="2.8" fill="#666">R1</text>
<text x="659.5" y="314.7" font-size="2.8" fill="#666">R2</text>
<text x="659.5" y="318.7" font-size="2.8" fill="#666">R1</text>
<text x="72.6" y="342.3" font-size="9.74" textLength="65.9" lengthAdjust="spacingAndGlyphs" font-weight="bold" fill="#2a2a2a">MALNC ClinSeq</text>
<text x="72.8" y="492.8" font-size="9.3" textLength="57.9" lengthAdjust="spacingAndGlyphs" font-weight="bold" fill="#2a2a2a">MALNC TCGA</text>
<line x1="86" y1="367.62" x2="86" y2="445.84" stroke="#b4b4b4" stroke-width="1.5"/>
<rect x="75" y="379.06" width="21.9" height="35.23" fill="#cee2f6" stroke="#8a8f96" stroke-width="0.7"/>
<line x1="75" y1="397.51" x2="96.9" y2="397.51" stroke="#111" stroke-width="1.5"/>
<g fill="#222" fill-opacity="0.9"><circle cx="88.26" cy="409.34" r="0.78"/><circle cx="87.71" cy="386.37" r="0.78"/><circle cx="89.76" cy="394.86" r="0.78"/><circle cx="90.75" cy="438.53" r="0.78"/><circle cx="90.24" cy="441.11" r="0.78"/><circle cx="87.83" cy="437.03" r="0.78"/><circle cx="92.99" cy="402.58" r="0.78"/><circle cx="88.76" cy="430.22" r="0.78"/><circle cx="93.83" cy="388.11" r="0.78"/><circle cx="89.98" cy="391.82" r="0.78"/><circle cx="87.53" cy="368.7" r="0.78"/><circle cx="89.23" cy="374.1" r="0.78"/><circle cx="88.02" cy="427.64" r="0.78"/><circle cx="92.91" cy="410.37" r="0.78"/><circle cx="91.27" cy="423.04" r="0.78"/><circle cx="89.81" cy="387.26" r="0.78"/><circle cx="87.64" cy="393.99" r="0.78"/><circle cx="88.64" cy="438.32" r="0.78"/><circle cx="90.19" cy="384.2" r="0.78"/><circle cx="91.3" cy="409.99" r="0.78"/><circle cx="89.3" cy="400.65" r="0.78"/><circle cx="92.09" cy="377.03" r="0.78"/><circle cx="91.22" cy="415.04" r="0.78"/><circle cx="93.33" cy="395.65" r="0.78"/></g>
<line x1="114.8" y1="367.62" x2="114.8" y2="448.39" stroke="#b4b4b4" stroke-width="1.5"/>
<rect x="104.2" y="399.42" width="21.6" height="25.12" fill="#9fc9eb" stroke="#8a8f96" stroke-width="0.7"/>
<line x1="104.2" y1="412.45" x2="125.8" y2="412.45" stroke="#111" stroke-width="1.5"/>
<g fill="#222" fill-opacity="0.9"><circle cx="118.02" cy="400.49" r="0.78"/><circle cx="116.83" cy="370.14" r="0.78"/><circle cx="121.3" cy="416.41" r="0.78"/><circle cx="119.42" cy="433.89" r="0.78"/><circle cx="120.68" cy="444.65" r="0.78"/><circle cx="120.01" cy="397.56" r="0.78"/><circle cx="118.2" cy="383.46" r="0.78"/><circle cx="120.16" cy="402.27" r="0.78"/><circle cx="119.19" cy="408.29" r="0.78"/><circle cx="122.61" cy="387.97" r="0.78"/><circle cx="120.65" cy="413.71" r="0.78"/><circle cx="120.91" cy="442.6" r="0.78"/><circle cx="122.95" cy="404.78" r="0.78"/><circle cx="117.99" cy="390.27" r="0.78"/><circle cx="120.68" cy="417.97" r="0.78"/><circle cx="119.23" cy="446.24" r="0.78"/><circle cx="116.82" cy="432.36" r="0.78"/><circle cx="121.38" cy="442.76" r="0.78"/><circle cx="117.73" cy="436.05" r="0.78"/><circle cx="122.1" cy="417.73" r="0.78"/><circle cx="119.14" cy="440.7" r="0.78"/><circle cx="122.18" cy="409.88" r="0.78"/><circle cx="122.05" cy="390.6" r="0.78"/><circle cx="118.91" cy="423.16" r="0.78"/><circle cx="122.19" cy="419.28" r="0.78"/><circle cx="117.06" cy="372.99" r="0.78"/><circle cx="117.62" cy="431.58" r="0.78"/><circle cx="119.39" cy="426.13" r="0.78"/><circle cx="117.84" cy="407.81" r="0.78"/><circle cx="118.93" cy="448" r="0.78"/><circle cx="119.96" cy="418.77" r="0.78"/><circle cx="120.83" cy="373.58" r="0.78"/><circle cx="120.32" cy="411.65" r="0.78"/><circle cx="116.38" cy="403.26" r="0.78"/><circle cx="121.46" cy="380.4" r="0.78"/><circle cx="121.59" cy="383.58" r="0.78"/><circle cx="118.79" cy="417.66" r="0.78"/><circle cx="120.44" cy="438.51" r="0.78"/><circle cx="116.47" cy="442.45" r="0.78"/><circle cx="117.14" cy="428.47" r="0.78"/><circle cx="116.37" cy="420.19" r="0.78"/><circle cx="117.06" cy="448.37" r="0.78"/><circle cx="118.55" cy="438.71" r="0.78"/><circle cx="122.12" cy="445.96" r="0.78"/><circle cx="117.04" cy="406.51" r="0.78"/><circle cx="118.43" cy="424.43" r="0.78"/><circle cx="116.86" cy="419.02" r="0.78"/><circle cx="122.95" cy="386.83" r="0.78"/><circle cx="119.39" cy="414.1" r="0.78"/><circle cx="116.72" cy="440.19" r="0.78"/><circle cx="117.85" cy="420.06" r="0.78"/><circle cx="117.13" cy="389.39" r="0.78"/><circle cx="122.66" cy="446.18" r="0.78"/><circle cx="117.03" cy="410.98" r="0.78"/><circle cx="116.19" cy="410.2" r="0.78"/><circle cx="122.85" cy="410.99" r="0.78"/><circle cx="120.87" cy="385" r="0.78"/><circle cx="118.57" cy="424" r="0.78"/><circle cx="121.4" cy="432.45" r="0.78"/><circle cx="121.45" cy="410.75" r="0.78"/><circle cx="117.56" cy="420.69" r="0.78"/><circle cx="122.89" cy="391.59" r="0.78"/><circle cx="121.64" cy="386.36" r="0.78"/><circle cx="121.18" cy="390.72" r="0.78"/><circle cx="119.62" cy="426.76" r="0.78"/><circle cx="116.2" cy="419.44" r="0.78"/><circle cx="117.96" cy="445.72" r="0.78"/><circle cx="120.85" cy="424.09" r="0.78"/><circle cx="119.13" cy="373.15" r="0.78"/><circle cx="122.92" cy="375.63" r="0.78"/><circle cx="118.55" cy="373.34" r="0.78"/><circle cx="117.59" cy="427.36" r="0.78"/><circle cx="117.43" cy="429.62" r="0.78"/><circle cx="122.3" cy="405.98" r="0.78"/><circle cx="119.36" cy="387.91" r="0.78"/><circle cx="121.6" cy="404.48" r="0.78"/><circle cx="120.62" cy="440.3" r="0.78"/><circle cx="121.48" cy="379.09" r="0.78"/><circle cx="119.35" cy="399.4" r="0.78"/><circle cx="121.52" cy="431.36" r="0.78"/><circle cx="121.61" cy="420.55" r="0.78"/><circle cx="118.77" cy="371.22" r="0.78"/><circle cx="122.63" cy="417.22" r="0.78"/><circle cx="117.19" cy="400.73" r="0.78"/><circle cx="117.06" cy="436.27" r="0.78"/><circle cx="121.65" cy="379.72" r="0.78"/><circle cx="121.79" cy="434.44" r="0.78"/><circle cx="120.6" cy="370.12" r="0.78"/><circle cx="119.84" cy="419.68" r="0.78"/><circle cx="116.1" cy="435.89" r="0.78"/><circle cx="120.55" cy="371.32" r="0.78"/><circle cx="122.54" cy="411.07" r="0.78"/><circle cx="122.1" cy="415.65" r="0.78"/><circle cx="117.48" cy="389.73" r="0.78"/><circle cx="118.05" cy="424.45" r="0.78"/><circle cx="120.11" cy="425.44" r="0.78"/><circle cx="118.93" cy="424.09" r="0.78"/><circle cx="122.37" cy="435.88" r="0.78"/><circle cx="119.21" cy="419.52" r="0.78"/><circle cx="122.33" cy="408.11" r="0.78"/><circle cx="122.42" cy="416.29" r="0.78"/><circle cx="119.72" cy="412.37" r="0.78"/><circle cx="116.13" cy="411.23" r="0.78"/><circle cx="117.28" cy="415.35" r="0.78"/><circle cx="121.59" cy="448.01" r="0.78"/><circle cx="119.31" cy="431.95" r="0.78"/><circle cx="119.9" cy="400.71" r="0.78"/><circle cx="119.63" cy="420.87" r="0.78"/><circle cx="121.49" cy="409.56" r="0.78"/><circle cx="119.92" cy="438.27" r="0.78"/><circle cx="117.94" cy="424.68" r="0.78"/><circle cx="119.55" cy="396.58" r="0.78"/><circle cx="121.32" cy="409.23" r="0.78"/><circle cx="119.1" cy="378.75" r="0.78"/><circle cx="119.54" cy="406.59" r="0.78"/><circle cx="120.85" cy="411.82" r="0.78"/><circle cx="119.73" cy="414.76" r="0.78"/><circle cx="122.59" cy="413.52" r="0.78"/><circle cx="122.14" cy="402.06" r="0.78"/><circle cx="117.82" cy="374.97" r="0.78"/><circle cx="122.6" cy="409.35" r="0.78"/><circle cx="116.96" cy="387.97" r="0.78"/><circle cx="119.09" cy="436.79" r="0.78"/><circle cx="117.68" cy="441.47" r="0.78"/><circle cx="120.69" cy="441.41" r="0.78"/><circle cx="122.28" cy="395.1" r="0.78"/><circle cx="121.01" cy="433.65" r="0.78"/><circle cx="117" cy="404.1" r="0.78"/><circle cx="122.77" cy="382.52" r="0.78"/><circle cx="122.67" cy="427.44" r="0.78"/><circle cx="119.41" cy="417.37" r="0.78"/><circle cx="121.83" cy="368.9" r="0.78"/><circle cx="119.02" cy="432.98" r="0.78"/><circle cx="118.37" cy="411.64" r="0.78"/><circle cx="118.23" cy="429.71" r="0.78"/><circle cx="116.14" cy="400.87" r="0.78"/><circle cx="119.08" cy="409.64" r="0.78"/><circle cx="118.32" cy="446.66" r="0.78"/><circle cx="119.59" cy="405.99" r="0.78"/><circle cx="122.9" cy="442.25" r="0.78"/><circle cx="122.8" cy="394.54" r="0.78"/><circle cx="117.86" cy="438.39" r="0.78"/><circle cx="121.45" cy="444.61" r="0.78"/><circle cx="116.91" cy="423.55" r="0.78"/><circle cx="122.38" cy="416.21" r="0.78"/><circle cx="117.81" cy="390.64" r="0.78"/><circle cx="122.43" cy="434.14" r="0.78"/><circle cx="120.9" cy="408.77" r="0.78"/><circle cx="116.4" cy="439.85" r="0.78"/><circle cx="118.98" cy="402.64" r="0.78"/><circle cx="122.57" cy="441.48" r="0.78"/><circle cx="121.61" cy="405.44" r="0.78"/><circle cx="121.99" cy="440.4" r="0.78"/><circle cx="122.04" cy="442.03" r="0.78"/><circle cx="118.37" cy="414.69" r="0.78"/><circle cx="122.49" cy="409.69" r="0.78"/><circle cx="116.9" cy="423.67" r="0.78"/><circle cx="117.67" cy="411.05" r="0.78"/><circle cx="117.13" cy="437.95" r="0.78"/><circle cx="117.41" cy="443.58" r="0.78"/><circle cx="118.14" cy="421.54" r="0.78"/><circle cx="118.03" cy="398.21" r="0.78"/><circle cx="117.25" cy="412.45" r="0.78"/><circle cx="116.13" cy="419.85" r="0.78"/><circle cx="116.11" cy="424.52" r="0.78"/><circle cx="119.86" cy="400.3" r="0.78"/><circle cx="119.32" cy="430.31" r="0.78"/><circle cx="116.74" cy="375.93" r="0.78"/><circle cx="119.03" cy="390.65" r="0.78"/><circle cx="121.84" cy="412.7" r="0.78"/><circle cx="119.55" cy="417.62" r="0.78"/><circle cx="122.88" cy="402.66" r="0.78"/><circle cx="121.83" cy="420.06" r="0.78"/><circle cx="120.45" cy="401.67" r="0.78"/><circle cx="118.43" cy="417.06" r="0.78"/><circle cx="116.91" cy="443.2" r="0.78"/><circle cx="121.19" cy="441.64" r="0.78"/><circle cx="117.14" cy="424.27" r="0.78"/><circle cx="121.89" cy="440.33" r="0.78"/><circle cx="120.69" cy="384.08" r="0.78"/><circle cx="117.7" cy="422.99" r="0.78"/><circle cx="119.22" cy="422.46" r="0.78"/><circle cx="119.12" cy="433.36" r="0.78"/><circle cx="122.73" cy="423.9" r="0.78"/><circle cx="119.83" cy="371.1" r="0.78"/><circle cx="122.76" cy="425.07" r="0.78"/><circle cx="118.5" cy="421.66" r="0.78"/><circle cx="118.67" cy="448.29" r="0.78"/><circle cx="119.52" cy="413.68" r="0.78"/><circle cx="119.53" cy="429.21" r="0.78"/><circle cx="117.85" cy="447.92" r="0.78"/><circle cx="118.8" cy="439.83" r="0.78"/><circle cx="116.16" cy="444.41" r="0.78"/><circle cx="117.63" cy="421.92" r="0.78"/><circle cx="119.7" cy="407.99" r="0.78"/><circle cx="120.6" cy="399.35" r="0.78"/><circle cx="122.15" cy="401.19" r="0.78"/><circle cx="118.28" cy="417.79" r="0.78"/><circle cx="117.05" cy="369.56" r="0.78"/><circle cx="120.5" cy="400.76" r="0.78"/><circle cx="121.85" cy="444.21" r="0.78"/><circle cx="120.39" cy="381.36" r="0.78"/><circle cx="121.69" cy="400.26" r="0.78"/><circle cx="119.67" cy="435.1" r="0.78"/><circle cx="121.84" cy="412.23" r="0.78"/><circle cx="121.78" cy="392.46" r="0.78"/><circle cx="122.25" cy="408.07" r="0.78"/></g>
<line x1="144.4" y1="387.33" x2="144.4" y2="448.39" stroke="#b4b4b4" stroke-width="1.5"/>
<rect x="133.4" y="413.03" width="21.6" height="19.14" fill="#78acde" stroke="#8a8f96" stroke-width="0.7"/>
<line x1="133.4" y1="423.2" x2="155" y2="423.2" stroke="#111" stroke-width="1.5"/>
<g fill="#222" fill-opacity="0.9"><circle cx="150.45" cy="415.76" r="0.78"/><circle cx="145.82" cy="433.47" r="0.78"/><circle cx="148.12" cy="439.75" r="0.78"/><circle cx="151.45" cy="441.58" r="0.78"/><circle cx="149.99" cy="420.82" r="0.78"/><circle cx="150.36" cy="418.06" r="0.78"/><circle cx="145.62" cy="423.59" r="0.78"/><circle cx="150.84" cy="408.12" r="0.78"/><circle cx="149.35" cy="423.08" r="0.78"/><circle cx="146.06" cy="416.72" r="0.78"/><circle cx="147.37" cy="413.56" r="0.78"/><circle cx="147.46" cy="443.56" r="0.78"/><circle cx="147.04" cy="413.87" r="0.78"/><circle cx="152.43" cy="413.44" r="0.78"/><circle cx="148.28" cy="423.42" r="0.78"/><circle cx="150.39" cy="423.96" r="0.78"/><circle cx="149.92" cy="411.28" r="0.78"/><circle cx="146.14" cy="417.39" r="0.78"/><circle cx="147.38" cy="438.82" r="0.78"/><circle cx="147.73" cy="413.3" r="0.78"/><circle cx="145.69" cy="420.44" r="0.78"/><circle cx="147.48" cy="444.45" r="0.78"/><circle cx="150.45" cy="416.2" r="0.78"/><circle cx="147.64" cy="416.05" r="0.78"/><circle cx="148.85" cy="422.53" r="0.78"/><circle cx="146.43" cy="424.41" r="0.78"/><circle cx="146.99" cy="398.26" r="0.78"/><circle cx="152.15" cy="389.58" r="0.78"/><circle cx="148.81" cy="447.25" r="0.78"/><circle cx="152.38" cy="405.84" r="0.78"/><circle cx="147.48" cy="425.02" r="0.78"/><circle cx="152.22" cy="434.78" r="0.78"/><circle cx="149.67" cy="434.72" r="0.78"/><circle cx="149.27" cy="439.19" r="0.78"/><circle cx="146.53" cy="392.19" r="0.78"/><circle cx="149.16" cy="405.81" r="0.78"/><circle cx="150.52" cy="398.96" r="0.78"/><circle cx="151.88" cy="433.38" r="0.78"/><circle cx="145.77" cy="423.7" r="0.78"/><circle cx="149.04" cy="448.16" r="0.78"/><circle cx="147.71" cy="424.97" r="0.78"/><circle cx="148.01" cy="439.26" r="0.78"/><circle cx="151.48" cy="429.8" r="0.78"/><circle cx="150.86" cy="448.28" r="0.78"/><circle cx="146.44" cy="403.87" r="0.78"/><circle cx="150.59" cy="394.9" r="0.78"/><circle cx="147.63" cy="397.45" r="0.78"/><circle cx="148.35" cy="427.79" r="0.78"/><circle cx="149.72" cy="387.46" r="0.78"/><circle cx="148.6" cy="428.2" r="0.78"/><circle cx="145.94" cy="431.27" r="0.78"/><circle cx="151.44" cy="441.79" r="0.78"/><circle cx="152.15" cy="430.89" r="0.78"/><circle cx="147.46" cy="432.21" r="0.78"/><circle cx="146.93" cy="422.76" r="0.78"/><circle cx="152.29" cy="427.75" r="0.78"/><circle cx="151.28" cy="399.23" r="0.78"/><circle cx="151.99" cy="417.87" r="0.78"/><circle cx="149.44" cy="393.43" r="0.78"/><circle cx="145.95" cy="414.26" r="0.78"/><circle cx="148.76" cy="413.74" r="0.78"/><circle cx="150.11" cy="412.75" r="0.78"/><circle cx="145.94" cy="430.87" r="0.78"/><circle cx="146.49" cy="394.86" r="0.78"/><circle cx="148.01" cy="424.2" r="0.78"/><circle cx="150.77" cy="430.46" r="0.78"/><circle cx="147.42" cy="389.77" r="0.78"/><circle cx="147.71" cy="416.85" r="0.78"/><circle cx="148.36" cy="420.87" r="0.78"/><circle cx="146.73" cy="437.53" r="0.78"/><circle cx="151.94" cy="434.9" r="0.78"/><circle cx="147.14" cy="423.31" r="0.78"/><circle cx="152.58" cy="396.97" r="0.78"/></g>
<line x1="68.4" y1="342.7" x2="68.4" y2="454.6" stroke="#333" stroke-width="0.9"/>
<line x1="68.4" y1="454.6" x2="161.4" y2="454.6" stroke="#333" stroke-width="0.9"/>
<line x1="66.8" y1="347.9" x2="68.4" y2="347.9" stroke="#333" stroke-width="0.7"/>
<text x="60.6" y="350.1" font-size="6.3" textLength="5.9" lengthAdjust="spacingAndGlyphs" font-weight="bold" fill="#111">10</text>
<line x1="66.8" y1="379.7" x2="68.4" y2="379.7" stroke="#333" stroke-width="0.7"/>
<text x="63.55" y="381.9" font-size="6.3" textLength="2.95" lengthAdjust="spacingAndGlyphs" font-weight="bold" fill="#111">5</text>
<line x1="66.8" y1="411.5" x2="68.4" y2="411.5" stroke="#333" stroke-width="0.7"/>
<text x="63.55" y="413.7" font-size="6.3" textLength="2.95" lengthAdjust="spacingAndGlyphs" font-weight="bold" fill="#111">0</text>
<line x1="66.8" y1="443.3" x2="68.4" y2="443.3" stroke="#333" stroke-width="0.7"/>
<text x="60.6" y="445.5" font-size="6.3" textLength="5.9" lengthAdjust="spacingAndGlyphs" font-weight="bold" fill="#111">-5</text>
<text x="115.7" y="358.73" font-size="8.6" text-anchor="middle" font-weight="bold">**</text>
<text x="145.1" y="363.73" font-size="8.6" text-anchor="middle" font-weight="bold">****</text>
<text x="50.9" y="399.8" font-size="7.4" font-weight="bold" fill="#222" text-anchor="middle" textLength="22.4" lengthAdjust="spacingAndGlyphs" transform="rotate(-90 50.9 399.8)">Scaled</text>
<text x="59" y="399.3" font-size="7" font-weight="normal" fill="#111" text-anchor="middle" textLength="44.3" lengthAdjust="spacingAndGlyphs" transform="rotate(-90 59 399.3)">log2(CPM+1)</text>
<text x="86" y="462" font-size="6.2" text-anchor="middle" font-weight="bold" fill="#111">Low</text>
<text x="86" y="468" font-size="6.2" text-anchor="middle" font-weight="bold" fill="#111">( 24 )</text>
<text x="114.8" y="462" font-size="6.2" text-anchor="middle" font-weight="bold" fill="#111">Intermediate</text>
<text x="114.8" y="468" font-size="6.2" text-anchor="middle" font-weight="bold" fill="#111">( 207 )</text>
<text x="144.4" y="462" font-size="6.2" text-anchor="middle" font-weight="bold" fill="#111">High</text>
<text x="144.4" y="468" font-size="6.2" text-anchor="middle" font-weight="bold" fill="#111">( 73 )</text>
<text x="88.9" y="475.4" font-size="7.4" textLength="51.8" lengthAdjust="spacingAndGlyphs" font-weight="bold">Cytogenetic risk</text>
<line x1="219" y1="367.5" x2="219" y2="449.22" stroke="#b4b4b4" stroke-width="1.5"/>
<rect x="207.6" y="393.26" width="22.6" height="25.12" fill="#cee2f6" stroke="#8a8f96" stroke-width="0.7"/>
<line x1="207.6" y1="402.16" x2="230.2" y2="402.16" stroke="#111" stroke-width="1.5"/>
<g fill="#222" fill-opacity="0.9"><circle cx="221.18" cy="405.41" r="0.78"/><circle cx="220.84" cy="425.48" r="0.78"/><circle cx="220.84" cy="412.41" r="0.78"/><circle cx="222.01" cy="419.72" r="0.78"/><circle cx="226.41" cy="399.68" r="0.78"/><circle cx="223.09" cy="393.27" r="0.78"/><circle cx="223.87" cy="407.75" r="0.78"/><circle cx="222.57" cy="410.15" r="0.78"/><circle cx="222.14" cy="441.57" r="0.78"/><circle cx="221.08" cy="370.83" r="0.78"/><circle cx="224.61" cy="402.04" r="0.78"/><circle cx="221.71" cy="381.63" r="0.78"/><circle cx="221.94" cy="417.01" r="0.78"/><circle cx="223.32" cy="408.66" r="0.78"/><circle cx="226.14" cy="372.24" r="0.78"/><circle cx="220.35" cy="380.59" r="0.78"/><circle cx="225.17" cy="445.25" r="0.78"/><circle cx="223.51" cy="378.24" r="0.78"/><circle cx="220.2" cy="399.06" r="0.78"/><circle cx="226.69" cy="409.2" r="0.78"/><circle cx="226.19" cy="385.47" r="0.78"/><circle cx="221.94" cy="370.36" r="0.78"/><circle cx="221.28" cy="435.77" r="0.78"/><circle cx="224.97" cy="401.36" r="0.78"/><circle cx="225.25" cy="373.53" r="0.78"/><circle cx="225.55" cy="396.91" r="0.78"/><circle cx="224.06" cy="404.93" r="0.78"/><circle cx="225.68" cy="444.34" r="0.78"/><circle cx="226.64" cy="420.53" r="0.78"/><circle cx="222.33" cy="396.98" r="0.78"/><circle cx="221.96" cy="433.43" r="0.78"/><circle cx="225.09" cy="397.31" r="0.78"/><circle cx="220.69" cy="435.39" r="0.78"/><circle cx="224.28" cy="401.29" r="0.78"/><circle cx="221.77" cy="409.42" r="0.78"/><circle cx="220.27" cy="398.56" r="0.78"/><circle cx="223.42" cy="415.04" r="0.78"/><circle cx="224.71" cy="371.73" r="0.78"/><circle cx="223.53" cy="379.47" r="0.78"/><circle cx="221.93" cy="420.26" r="0.78"/><circle cx="225.13" cy="371.56" r="0.78"/><circle cx="220.35" cy="414.65" r="0.78"/><circle cx="224.92" cy="402.27" r="0.78"/><circle cx="222" cy="407.35" r="0.78"/><circle cx="226.68" cy="396.2" r="0.78"/><circle cx="220.44" cy="421.24" r="0.78"/><circle cx="223.14" cy="412.67" r="0.78"/><circle cx="221.59" cy="395.66" r="0.78"/><circle cx="225.37" cy="388.41" r="0.78"/><circle cx="221.64" cy="401.99" r="0.78"/></g>
<line x1="247.8" y1="367.5" x2="247.8" y2="449.22" stroke="#b4b4b4" stroke-width="1.5"/>
<rect x="236.8" y="399.23" width="22.4" height="25.19" fill="#9fc9eb" stroke="#8a8f96" stroke-width="0.7"/>
<line x1="236.8" y1="412.53" x2="259.2" y2="412.53" stroke="#111" stroke-width="1.5"/>
<g fill="#222" fill-opacity="0.9"><circle cx="251.18" cy="371.32" r="0.78"/><circle cx="250.62" cy="390.35" r="0.78"/><circle cx="254.32" cy="427.25" r="0.78"/><circle cx="255.66" cy="422.28" r="0.78"/><circle cx="250.31" cy="412.73" r="0.78"/><circle cx="251.92" cy="427.07" r="0.78"/><circle cx="255.64" cy="403.74" r="0.78"/><circle cx="251.75" cy="434.7" r="0.78"/><circle cx="255.82" cy="428.1" r="0.78"/><circle cx="249.36" cy="435.14" r="0.78"/><circle cx="251.75" cy="443.26" r="0.78"/><circle cx="255.19" cy="380.43" r="0.78"/><circle cx="255.98" cy="400.15" r="0.78"/><circle cx="251.3" cy="376.18" r="0.78"/><circle cx="255.55" cy="430.82" r="0.78"/><circle cx="249.22" cy="399.43" r="0.78"/><circle cx="251.65" cy="403.78" r="0.78"/><circle cx="251.32" cy="418.53" r="0.78"/><circle cx="249.02" cy="432.43" r="0.78"/><circle cx="251.46" cy="423" r="0.78"/><circle cx="249.87" cy="373.15" r="0.78"/><circle cx="250.45" cy="372.03" r="0.78"/><circle cx="254.75" cy="419.35" r="0.78"/><circle cx="252.03" cy="390.09" r="0.78"/><circle cx="252.31" cy="444.34" r="0.78"/><circle cx="255.44" cy="418.58" r="0.78"/><circle cx="251.55" cy="430.07" r="0.78"/><circle cx="249.21" cy="380.57" r="0.78"/><circle cx="254.68" cy="416.77" r="0.78"/><circle cx="249.28" cy="397.12" r="0.78"/><circle cx="249.44" cy="445.77" r="0.78"/><circle cx="250.8" cy="377.64" r="0.78"/><circle cx="255.29" cy="399.38" r="0.78"/><circle cx="250.91" cy="420.18" r="0.78"/><circle cx="253.32" cy="372.87" r="0.78"/><circle cx="254.02" cy="423.84" r="0.78"/><circle cx="250.93" cy="421.26" r="0.78"/><circle cx="254.29" cy="448.85" r="0.78"/><circle cx="253.44" cy="378.1" r="0.78"/><circle cx="249.17" cy="374.7" r="0.78"/><circle cx="252.33" cy="426.02" r="0.78"/><circle cx="255.68" cy="372.98" r="0.78"/><circle cx="250.76" cy="417.93" r="0.78"/><circle cx="252.45" cy="415.86" r="0.78"/><circle cx="250.28" cy="376.63" r="0.78"/><circle cx="254.17" cy="392.56" r="0.78"/><circle cx="254.41" cy="390" r="0.78"/><circle cx="251.29" cy="406.82" r="0.78"/><circle cx="251.53" cy="421.11" r="0.78"/><circle cx="249.55" cy="395.14" r="0.78"/><circle cx="254.27" cy="429.65" r="0.78"/><circle cx="249.45" cy="424.69" r="0.78"/><circle cx="252.87" cy="445.86" r="0.78"/><circle cx="255.86" cy="420.82" r="0.78"/><circle cx="255.91" cy="382.29" r="0.78"/><circle cx="249.59" cy="423.71" r="0.78"/><circle cx="252.49" cy="439.66" r="0.78"/><circle cx="252.13" cy="401.37" r="0.78"/><circle cx="251.92" cy="425.99" r="0.78"/><circle cx="253.72" cy="406.13" r="0.78"/><circle cx="254.93" cy="399.34" r="0.78"/><circle cx="249.85" cy="403.78" r="0.78"/><circle cx="251.06" cy="387.7" r="0.78"/><circle cx="251.61" cy="408.97" r="0.78"/><circle cx="250.39" cy="399.87" r="0.78"/><circle cx="250.72" cy="424.68" r="0.78"/><circle cx="255.19" cy="434.01" r="0.78"/><circle cx="251.28" cy="408.36" r="0.78"/><circle cx="255.95" cy="417.47" r="0.78"/><circle cx="250.62" cy="412.14" r="0.78"/><circle cx="253.57" cy="391.82" r="0.78"/><circle cx="249.72" cy="368.65" r="0.78"/><circle cx="254.73" cy="413.73" r="0.78"/><circle cx="255.4" cy="387.74" r="0.78"/><circle cx="251.06" cy="445.22" r="0.78"/><circle cx="250.33" cy="437.4" r="0.78"/><circle cx="253.08" cy="370.93" r="0.78"/><circle cx="251.61" cy="376.36" r="0.78"/><circle cx="252.14" cy="384.49" r="0.78"/><circle cx="254.44" cy="423.95" r="0.78"/><circle cx="249.74" cy="374.39" r="0.78"/><circle cx="253.34" cy="407.41" r="0.78"/><circle cx="251.58" cy="427.63" r="0.78"/><circle cx="250.43" cy="435.2" r="0.78"/><circle cx="253.2" cy="424.19" r="0.78"/><circle cx="250.42" cy="404.46" r="0.78"/><circle cx="251.29" cy="448.09" r="0.78"/><circle cx="250.3" cy="403.05" r="0.78"/><circle cx="250.42" cy="421.46" r="0.78"/><circle cx="252.84" cy="393.49" r="0.78"/><circle cx="249.71" cy="442.95" r="0.78"/><circle cx="252.85" cy="417.51" r="0.78"/><circle cx="249.64" cy="405.13" r="0.78"/><circle cx="253.87" cy="432.98" r="0.78"/><circle cx="250.98" cy="416.82" r="0.78"/><circle cx="255.67" cy="421.68" r="0.78"/><circle cx="252.97" cy="421.45" r="0.78"/><circle cx="251.92" cy="419.32" r="0.78"/><circle cx="255.98" cy="384.73" r="0.78"/><circle cx="250.38" cy="419.01" r="0.78"/><circle cx="250.43" cy="400.4" r="0.78"/><circle cx="255.31" cy="448.64" r="0.78"/><circle cx="254.74" cy="416.15" r="0.78"/><circle cx="255.18" cy="416.99" r="0.78"/><circle cx="250.14" cy="414.39" r="0.78"/><circle cx="252.86" cy="447.75" r="0.78"/><circle cx="255.37" cy="405.05" r="0.78"/><circle cx="253.36" cy="440.39" r="0.78"/><circle cx="252.53" cy="418.67" r="0.78"/><circle cx="250.98" cy="434.75" r="0.78"/><circle cx="255.48" cy="411.4" r="0.78"/><circle cx="252.43" cy="438.43" r="0.78"/><circle cx="255.77" cy="392.28" r="0.78"/><circle cx="249.89" cy="429.64" r="0.78"/><circle cx="255.83" cy="374.72" r="0.78"/><circle cx="249.37" cy="413.35" r="0.78"/><circle cx="251.72" cy="376.87" r="0.78"/><circle cx="253.34" cy="379.66" r="0.78"/><circle cx="250.12" cy="389.77" r="0.78"/><circle cx="250.55" cy="394.69" r="0.78"/><circle cx="254.92" cy="417.07" r="0.78"/><circle cx="250.28" cy="389.18" r="0.78"/><circle cx="251.8" cy="427.58" r="0.78"/><circle cx="251.69" cy="411.58" r="0.78"/><circle cx="250.73" cy="437.01" r="0.78"/><circle cx="255.28" cy="400.57" r="0.78"/><circle cx="252.94" cy="445.15" r="0.78"/><circle cx="249.27" cy="398.29" r="0.78"/><circle cx="249.82" cy="388.04" r="0.78"/><circle cx="252.85" cy="407.24" r="0.78"/><circle cx="251.14" cy="405.77" r="0.78"/><circle cx="253.08" cy="416.33" r="0.78"/><circle cx="253.61" cy="416.06" r="0.78"/><circle cx="252.07" cy="415.06" r="0.78"/><circle cx="253.33" cy="446.9" r="0.78"/><circle cx="250.65" cy="413.03" r="0.78"/><circle cx="254.46" cy="397.51" r="0.78"/><circle cx="250.26" cy="414.51" r="0.78"/><circle cx="249.75" cy="413.8" r="0.78"/><circle cx="252.01" cy="436.48" r="0.78"/><circle cx="252.09" cy="440.12" r="0.78"/><circle cx="249.29" cy="411.99" r="0.78"/><circle cx="249.58" cy="405.27" r="0.78"/><circle cx="254.44" cy="400.11" r="0.78"/><circle cx="249.38" cy="411.92" r="0.78"/><circle cx="251.65" cy="412.32" r="0.78"/><circle cx="249.95" cy="373.74" r="0.78"/><circle cx="255.97" cy="385.64" r="0.78"/><circle cx="254.7" cy="400.19" r="0.78"/><circle cx="255.87" cy="430.01" r="0.78"/><circle cx="255.7" cy="412.91" r="0.78"/><circle cx="250.16" cy="378.16" r="0.78"/><circle cx="255.51" cy="394.36" r="0.78"/><circle cx="251.46" cy="442.72" r="0.78"/><circle cx="250.11" cy="398.45" r="0.78"/><circle cx="250.92" cy="380.63" r="0.78"/><circle cx="250.01" cy="390.9" r="0.78"/><circle cx="255.44" cy="412.41" r="0.78"/><circle cx="250.84" cy="428.55" r="0.78"/><circle cx="251.23" cy="412.21" r="0.78"/><circle cx="250.27" cy="445.57" r="0.78"/><circle cx="255.55" cy="433.23" r="0.78"/><circle cx="255.27" cy="402.97" r="0.78"/><circle cx="254.49" cy="432.48" r="0.78"/><circle cx="252.72" cy="437.81" r="0.78"/><circle cx="251.52" cy="405.28" r="0.78"/><circle cx="252.89" cy="383.63" r="0.78"/><circle cx="255.18" cy="408.27" r="0.78"/><circle cx="255.95" cy="438.85" r="0.78"/><circle cx="251.76" cy="405.63" r="0.78"/><circle cx="250.85" cy="393.18" r="0.78"/><circle cx="253.04" cy="368.7" r="0.78"/><circle cx="254.35" cy="419.18" r="0.78"/></g>
<line x1="277.2" y1="381.17" x2="277.2" y2="449.22" stroke="#b4b4b4" stroke-width="1.5"/>
<rect x="266.4" y="412.08" width="22.2" height="21.24" fill="#78acde" stroke="#8a8f96" stroke-width="0.7"/>
<line x1="266.4" y1="423.15" x2="288.6" y2="423.15" stroke="#111" stroke-width="1.5"/>
<g fill="#222" fill-opacity="0.9"><circle cx="279.64" cy="425.5" r="0.78"/><circle cx="278.74" cy="412.37" r="0.78"/><circle cx="280.18" cy="403.45" r="0.78"/><circle cx="285.29" cy="416.98" r="0.78"/><circle cx="283.05" cy="419.35" r="0.78"/><circle cx="278.41" cy="430.77" r="0.78"/><circle cx="279.45" cy="447.07" r="0.78"/><circle cx="281.43" cy="418.01" r="0.78"/><circle cx="284.67" cy="422.59" r="0.78"/><circle cx="279.99" cy="440.83" r="0.78"/><circle cx="278.56" cy="416.37" r="0.78"/><circle cx="280.88" cy="449.06" r="0.78"/><circle cx="280.9" cy="442.46" r="0.78"/><circle cx="282.49" cy="434.96" r="0.78"/><circle cx="279.83" cy="419.2" r="0.78"/><circle cx="281.72" cy="417.66" r="0.78"/><circle cx="284.96" cy="440.65" r="0.78"/><circle cx="279.45" cy="433.73" r="0.78"/><circle cx="282.87" cy="443.13" r="0.78"/><circle cx="283.88" cy="397.09" r="0.78"/><circle cx="280.25" cy="427.14" r="0.78"/><circle cx="282.91" cy="448.49" r="0.78"/><circle cx="280.85" cy="420.39" r="0.78"/><circle cx="281.51" cy="416.7" r="0.78"/><circle cx="283.53" cy="388.94" r="0.78"/><circle cx="284.72" cy="433.42" r="0.78"/><circle cx="282.12" cy="446.43" r="0.78"/><circle cx="280.06" cy="426.97" r="0.78"/><circle cx="283.85" cy="445.51" r="0.78"/><circle cx="282.26" cy="448.44" r="0.78"/><circle cx="279.4" cy="388.48" r="0.78"/><circle cx="282.66" cy="436.53" r="0.78"/><circle cx="282.89" cy="422.84" r="0.78"/><circle cx="279.62" cy="404.25" r="0.78"/><circle cx="280.5" cy="430.91" r="0.78"/><circle cx="284.63" cy="446.14" r="0.78"/><circle cx="283.41" cy="408" r="0.78"/><circle cx="284.31" cy="448.82" r="0.78"/><circle cx="281.66" cy="412.29" r="0.78"/><circle cx="281.57" cy="412.45" r="0.78"/><circle cx="279.14" cy="434.85" r="0.78"/><circle cx="278.67" cy="434.45" r="0.78"/><circle cx="283.65" cy="429.84" r="0.78"/><circle cx="284.32" cy="414.51" r="0.78"/><circle cx="280.26" cy="413.78" r="0.78"/><circle cx="281.45" cy="420.77" r="0.78"/><circle cx="282.06" cy="407.33" r="0.78"/><circle cx="282.89" cy="432.7" r="0.78"/><circle cx="279.92" cy="385.48" r="0.78"/><circle cx="278.51" cy="396" r="0.78"/><circle cx="280.05" cy="432.9" r="0.78"/><circle cx="285.01" cy="412.35" r="0.78"/><circle cx="280.69" cy="412.25" r="0.78"/><circle cx="280.7" cy="395.99" r="0.78"/><circle cx="284.75" cy="434.01" r="0.78"/><circle cx="283.25" cy="417.36" r="0.78"/><circle cx="285.25" cy="415.83" r="0.78"/><circle cx="284.28" cy="424.39" r="0.78"/><circle cx="284.4" cy="414.4" r="0.78"/><circle cx="283.47" cy="425.7" r="0.78"/><circle cx="280.55" cy="420.03" r="0.78"/><circle cx="282.76" cy="435.74" r="0.78"/><circle cx="284.78" cy="444.28" r="0.78"/><circle cx="278.59" cy="440.03" r="0.78"/><circle cx="284.9" cy="442.44" r="0.78"/><circle cx="279.39" cy="429.46" r="0.78"/><circle cx="278.69" cy="447.4" r="0.78"/><circle cx="282.84" cy="414.62" r="0.78"/><circle cx="283.56" cy="414.43" r="0.78"/><circle cx="282.53" cy="445.04" r="0.78"/><circle cx="284.12" cy="428.71" r="0.78"/><circle cx="284.64" cy="403.48" r="0.78"/><circle cx="284.47" cy="445.03" r="0.78"/><circle cx="285.01" cy="391.75" r="0.78"/><circle cx="279.84" cy="442.41" r="0.78"/><circle cx="278.64" cy="442.1" r="0.78"/><circle cx="284.08" cy="400" r="0.78"/><circle cx="284.18" cy="417.21" r="0.78"/><circle cx="280.41" cy="417.33" r="0.78"/><circle cx="279.09" cy="442.87" r="0.78"/><circle cx="279.83" cy="411.17" r="0.78"/></g>
<line x1="201.3" y1="343.8" x2="201.3" y2="454.2" stroke="#333" stroke-width="0.9"/>
<line x1="201.3" y1="454.2" x2="294.3" y2="454.2" stroke="#333" stroke-width="0.9"/>
<line x1="199.7" y1="348.1" x2="201.3" y2="348.1" stroke="#333" stroke-width="0.7"/>
<text x="193.5" y="350.3" font-size="6.3" textLength="5.9" lengthAdjust="spacingAndGlyphs" font-weight="bold" fill="#111">10</text>
<line x1="199.7" y1="379.9" x2="201.3" y2="379.9" stroke="#333" stroke-width="0.7"/>
<text x="196.45" y="382.1" font-size="6.3" textLength="2.95" lengthAdjust="spacingAndGlyphs" font-weight="bold" fill="#111">5</text>
<line x1="199.7" y1="411.7" x2="201.3" y2="411.7" stroke="#333" stroke-width="0.7"/>
<text x="196.45" y="413.9" font-size="6.3" textLength="2.95" lengthAdjust="spacingAndGlyphs" font-weight="bold" fill="#111">0</text>
<line x1="199.7" y1="443.5" x2="201.3" y2="443.5" stroke="#333" stroke-width="0.7"/>
<text x="193.5" y="445.7" font-size="6.3" textLength="5.9" lengthAdjust="spacingAndGlyphs" font-weight="bold" fill="#111">-5</text>
<text x="248.7" y="358.83" font-size="8.6" text-anchor="middle" font-weight="bold">*</text>
<text x="278" y="364.03" font-size="8.6" text-anchor="middle" font-weight="bold">****</text>
<text x="185.2" y="399.8" font-size="7.4" font-weight="bold" fill="#222" text-anchor="middle" textLength="22.4" lengthAdjust="spacingAndGlyphs" transform="rotate(-90 185.2 399.8)">Scaled</text>
<text x="192.8" y="399.3" font-size="7" font-weight="normal" fill="#111" text-anchor="middle" textLength="44.3" lengthAdjust="spacingAndGlyphs" transform="rotate(-90 192.8 399.3)">log2(CPM+1)</text>
<text x="219" y="462" font-size="6.2" text-anchor="middle" font-weight="bold" fill="#111">Low</text>
<text x="219" y="468" font-size="6.2" text-anchor="middle" font-weight="bold" fill="#111">( 50 )</text>
<text x="247.8" y="462" font-size="6.2" text-anchor="middle" font-weight="bold" fill="#111">Intermediate</text>
<text x="247.8" y="468" font-size="6.2" text-anchor="middle" font-weight="bold" fill="#111">( 173 )</text>
<text x="277.2" y="462" font-size="6.2" text-anchor="middle" font-weight="bold" fill="#111">High</text>
<text x="277.2" y="468" font-size="6.2" text-anchor="middle" font-weight="bold" fill="#111">( 81 )</text>
<text x="228.8" y="475.4" font-size="7.4" textLength="38.4" lengthAdjust="spacingAndGlyphs" font-weight="bold">Genetic risk</text>
<line x1="87.8" y1="529.03" x2="87.8" y2="596.23" stroke="#555" stroke-width="0.8"/>
<rect x="75.6" y="532.39" width="22.4" height="42.92" fill="#d1ebe0" stroke="#5f6f68" stroke-width="0.7"/>
<line x1="75.6" y1="537.53" x2="98" y2="537.53" stroke="#1f2a2a" stroke-width="1.5"/>
<g fill="#222" fill-opacity="0.9"><circle cx="91.97" cy="564.86" r="0.78"/><circle cx="90.8" cy="594.48" r="0.78"/><circle cx="94.01" cy="570.39" r="0.78"/><circle cx="91.25" cy="557.47" r="0.78"/><circle cx="92.53" cy="529.51" r="0.78"/><circle cx="93.33" cy="531.03" r="0.78"/><circle cx="91.89" cy="593.64" r="0.78"/><circle cx="94.41" cy="547.13" r="0.78"/><circle cx="93.93" cy="560.68" r="0.78"/><circle cx="90.52" cy="536.75" r="0.78"/><circle cx="89.64" cy="530.88" r="0.78"/><circle cx="90.19" cy="531.45" r="0.78"/><circle cx="90.41" cy="596.13" r="0.78"/><circle cx="95.85" cy="532.23" r="0.78"/><circle cx="92.44" cy="595.87" r="0.78"/><circle cx="94.58" cy="538.81" r="0.78"/><circle cx="92.46" cy="580.79" r="0.78"/><circle cx="94.82" cy="560.62" r="0.78"/><circle cx="95.61" cy="573.71" r="0.78"/><circle cx="90.5" cy="570.21" r="0.78"/><circle cx="92.49" cy="533.43" r="0.78"/><circle cx="93.46" cy="587.03" r="0.78"/><circle cx="94.52" cy="589.47" r="0.78"/><circle cx="94.51" cy="533.48" r="0.78"/><circle cx="91.49" cy="534.9" r="0.78"/><circle cx="91.76" cy="552.45" r="0.78"/><circle cx="89.6" cy="530.5" r="0.78"/><circle cx="89.18" cy="530.53" r="0.78"/><circle cx="90.84" cy="578.98" r="0.78"/><circle cx="92.51" cy="530.36" r="0.78"/><circle cx="95.19" cy="555.77" r="0.78"/></g>
<line x1="116.3" y1="526.49" x2="116.3" y2="596.87" stroke="#555" stroke-width="0.8"/>
<rect x="105.1" y="550.78" width="21.9" height="34.68" fill="#91cbb4" stroke="#5f6f68" stroke-width="0.7"/>
<line x1="105.1" y1="568.08" x2="127" y2="568.08" stroke="#1f2a2a" stroke-width="1.5"/>
<g fill="#222" fill-opacity="0.9"><circle cx="120.73" cy="586.21" r="0.78"/><circle cx="122.78" cy="565.9" r="0.78"/><circle cx="122.02" cy="550.49" r="0.78"/><circle cx="119.79" cy="578.61" r="0.78"/><circle cx="123.4" cy="589.78" r="0.78"/><circle cx="122.69" cy="556.86" r="0.78"/><circle cx="120.57" cy="589.13" r="0.78"/><circle cx="121.55" cy="548.5" r="0.78"/><circle cx="120.73" cy="591.11" r="0.78"/><circle cx="119.17" cy="537.65" r="0.78"/><circle cx="119.61" cy="588.12" r="0.78"/><circle cx="123.41" cy="554.02" r="0.78"/><circle cx="118.59" cy="589.81" r="0.78"/><circle cx="119.79" cy="585.57" r="0.78"/><circle cx="118.63" cy="566.55" r="0.78"/><circle cx="118.82" cy="580.03" r="0.78"/><circle cx="122.6" cy="528.91" r="0.78"/><circle cx="124.24" cy="592.22" r="0.78"/><circle cx="120.19" cy="592.23" r="0.78"/><circle cx="123.06" cy="528.06" r="0.78"/><circle cx="120.54" cy="551.93" r="0.78"/><circle cx="121.97" cy="587.91" r="0.78"/><circle cx="118.95" cy="591.99" r="0.78"/><circle cx="117.74" cy="575.84" r="0.78"/><circle cx="123.04" cy="575.1" r="0.78"/><circle cx="121" cy="554.69" r="0.78"/><circle cx="120.74" cy="558.92" r="0.78"/><circle cx="121.73" cy="590.39" r="0.78"/><circle cx="122.69" cy="574.71" r="0.78"/><circle cx="120.51" cy="535.43" r="0.78"/><circle cx="122.74" cy="562.96" r="0.78"/><circle cx="119.1" cy="573.56" r="0.78"/><circle cx="123.66" cy="552.7" r="0.78"/><circle cx="122.4" cy="548.44" r="0.78"/><circle cx="122.26" cy="540.83" r="0.78"/><circle cx="120.68" cy="558.29" r="0.78"/><circle cx="121.9" cy="581.08" r="0.78"/><circle cx="120.44" cy="592.4" r="0.78"/><circle cx="122.49" cy="547.63" r="0.78"/><circle cx="119.25" cy="559.11" r="0.78"/><circle cx="120.69" cy="573.39" r="0.78"/><circle cx="120.37" cy="559.67" r="0.78"/><circle cx="124.01" cy="555.95" r="0.78"/><circle cx="122.08" cy="588.51" r="0.78"/><circle cx="120.22" cy="548.04" r="0.78"/><circle cx="124.32" cy="568.79" r="0.78"/><circle cx="121.3" cy="595.13" r="0.78"/><circle cx="122.97" cy="589.53" r="0.78"/><circle cx="121.13" cy="532.26" r="0.78"/><circle cx="121.52" cy="592.25" r="0.78"/><circle cx="122.52" cy="565.24" r="0.78"/><circle cx="121.97" cy="567.24" r="0.78"/><circle cx="121.15" cy="543.1" r="0.78"/><circle cx="124.14" cy="574.31" r="0.78"/><circle cx="122.29" cy="587.28" r="0.78"/><circle cx="122.84" cy="575.55" r="0.78"/><circle cx="124.39" cy="591.28" r="0.78"/><circle cx="117.9" cy="578.13" r="0.78"/><circle cx="120.3" cy="583.76" r="0.78"/><circle cx="120.43" cy="596.26" r="0.78"/><circle cx="122.39" cy="573.61" r="0.78"/><circle cx="119.36" cy="578.36" r="0.78"/><circle cx="122.69" cy="586.62" r="0.78"/><circle cx="121.19" cy="532.33" r="0.78"/><circle cx="123.11" cy="586.88" r="0.78"/><circle cx="118.98" cy="575.59" r="0.78"/><circle cx="122.94" cy="590.97" r="0.78"/><circle cx="121.94" cy="544.99" r="0.78"/><circle cx="121.43" cy="570.23" r="0.78"/><circle cx="124.25" cy="586.55" r="0.78"/><circle cx="121.97" cy="578.29" r="0.78"/><circle cx="123.21" cy="544.1" r="0.78"/><circle cx="119.56" cy="570.3" r="0.78"/><circle cx="118.38" cy="564.74" r="0.78"/><circle cx="119.98" cy="542.64" r="0.78"/><circle cx="119.37" cy="541" r="0.78"/><circle cx="119.27" cy="576.69" r="0.78"/><circle cx="118.8" cy="573.22" r="0.78"/><circle cx="122.55" cy="596.74" r="0.78"/><circle cx="119.21" cy="583.29" r="0.78"/><circle cx="120.86" cy="581.86" r="0.78"/></g>
<line x1="145.5" y1="551.22" x2="145.5" y2="596.87" stroke="#555" stroke-width="0.8"/>
<rect x="134.3" y="570.24" width="21.9" height="19.65" fill="#6fb096" stroke="#5f6f68" stroke-width="0.7"/>
<line x1="134.3" y1="583.55" x2="156.2" y2="583.55" stroke="#1f2a2a" stroke-width="1.5"/>
<g fill="#222" fill-opacity="0.9"><circle cx="151.16" cy="585.37" r="0.78"/><circle cx="149.24" cy="575.07" r="0.78"/><circle cx="152.68" cy="556.64" r="0.78"/><circle cx="152.5" cy="595.28" r="0.78"/><circle cx="152.19" cy="558.39" r="0.78"/><circle cx="152.52" cy="592.95" r="0.78"/><circle cx="146.8" cy="576.46" r="0.78"/><circle cx="153.36" cy="596.55" r="0.78"/><circle cx="148.45" cy="575.25" r="0.78"/><circle cx="147.7" cy="594.04" r="0.78"/><circle cx="152.13" cy="590.35" r="0.78"/><circle cx="147.77" cy="587.45" r="0.78"/><circle cx="152.24" cy="558.52" r="0.78"/><circle cx="152.94" cy="592.18" r="0.78"/><circle cx="152.17" cy="577.78" r="0.78"/><circle cx="152.96" cy="574.58" r="0.78"/><circle cx="152.57" cy="567.34" r="0.78"/><circle cx="151.55" cy="591.36" r="0.78"/><circle cx="151.89" cy="581.91" r="0.78"/><circle cx="152.88" cy="585.11" r="0.78"/><circle cx="148.55" cy="580.62" r="0.78"/><circle cx="147.68" cy="590.34" r="0.78"/><circle cx="147.11" cy="583.73" r="0.78"/><circle cx="147.71" cy="584.39" r="0.78"/><circle cx="150.19" cy="583.77" r="0.78"/><circle cx="152.74" cy="581.45" r="0.78"/><circle cx="152.59" cy="596.68" r="0.78"/><circle cx="150.64" cy="584.37" r="0.78"/><circle cx="152.58" cy="574.75" r="0.78"/><circle cx="149.63" cy="586.73" r="0.78"/><circle cx="147.23" cy="554.22" r="0.78"/><circle cx="151.15" cy="576.26" r="0.78"/><circle cx="150.97" cy="596.07" r="0.78"/><circle cx="153.22" cy="573.83" r="0.78"/><circle cx="153.57" cy="587.85" r="0.78"/><circle cx="150.09" cy="582.99" r="0.78"/></g>
<line x1="69.6" y1="495.5" x2="69.6" y2="606.8" stroke="#333" stroke-width="0.9"/>
<line x1="69.6" y1="606.8" x2="161.4" y2="606.8" stroke="#333" stroke-width="0.9"/>
<line x1="68" y1="500.5" x2="69.6" y2="500.5" stroke="#333" stroke-width="0.7"/>
<text x="61.8" y="502.7" font-size="6.3" textLength="5.9" lengthAdjust="spacingAndGlyphs" font-weight="bold" fill="#111">10</text>
<line x1="68" y1="532.2" x2="69.6" y2="532.2" stroke="#333" stroke-width="0.7"/>
<text x="64.75" y="534.4" font-size="6.3" textLength="2.95" lengthAdjust="spacingAndGlyphs" font-weight="bold" fill="#111">5</text>
<line x1="68" y1="563.9" x2="69.6" y2="563.9" stroke="#333" stroke-width="0.7"/>
<text x="64.75" y="566.1" font-size="6.3" textLength="2.95" lengthAdjust="spacingAndGlyphs" font-weight="bold" fill="#111">0</text>
<line x1="68" y1="595.6" x2="69.6" y2="595.6" stroke="#333" stroke-width="0.7"/>
<text x="61.8" y="597.8" font-size="6.3" textLength="5.9" lengthAdjust="spacingAndGlyphs" font-weight="bold" fill="#111">-5</text>
<text x="116.9" y="511.53" font-size="8.6" text-anchor="middle" font-weight="bold">**</text>
<text x="146.3" y="517.03" font-size="8.6" text-anchor="middle" font-weight="bold">***</text>
<text x="51.9" y="554.1" font-size="7.4" font-weight="bold" fill="#222" text-anchor="middle" textLength="22.4" lengthAdjust="spacingAndGlyphs" transform="rotate(-90 51.9 554.1)">Scaled</text>
<text x="59.6" y="553.6" font-size="7" font-weight="normal" fill="#111" text-anchor="middle" textLength="44.3" lengthAdjust="spacingAndGlyphs" transform="rotate(-90 59.6 553.6)">log2(CPM+1)</text>
<text x="87.8" y="614.1" font-size="6.2" text-anchor="middle" font-weight="bold" fill="#111">Low</text>
<text x="87.8" y="620.1" font-size="6.2" text-anchor="middle" font-weight="bold" fill="#111">( 31 )</text>
<text x="116.3" y="614.1" font-size="6.2" text-anchor="middle" font-weight="bold" fill="#111">Intermediate</text>
<text x="116.3" y="620.1" font-size="6.2" text-anchor="middle" font-weight="bold" fill="#111">( 81 )</text>
<text x="145.5" y="614.1" font-size="6.2" text-anchor="middle" font-weight="bold" fill="#111">High</text>
<text x="145.5" y="620.1" font-size="6.2" text-anchor="middle" font-weight="bold" fill="#111">( 36 )</text>
<text x="90.2" y="627.5" font-size="7.4" textLength="51.4" lengthAdjust="spacingAndGlyphs" font-weight="bold">Cytogenetic risk</text>
<line x1="220.9" y1="529.16" x2="220.9" y2="595.94" stroke="#555" stroke-width="0.8"/>
<rect x="209.3" y="532.34" width="22.4" height="39.18" fill="#d1ebe0" stroke="#5f6f68" stroke-width="0.7"/>
<line x1="209.3" y1="539.33" x2="231.7" y2="539.33" stroke="#1f2a2a" stroke-width="1.5"/>
<g fill="#222" fill-opacity="0.9"><circle cx="222.34" cy="530.46" r="0.78"/><circle cx="226.48" cy="533.23" r="0.78"/><circle cx="228.13" cy="560.11" r="0.78"/><circle cx="225.42" cy="556.56" r="0.78"/><circle cx="227.49" cy="538.62" r="0.78"/><circle cx="225.15" cy="575.35" r="0.78"/><circle cx="225.98" cy="549.32" r="0.78"/><circle cx="224.15" cy="531.36" r="0.78"/><circle cx="224.93" cy="531.35" r="0.78"/><circle cx="224" cy="539.23" r="0.78"/><circle cx="228.92" cy="539.15" r="0.78"/><circle cx="227.64" cy="535.01" r="0.78"/><circle cx="224.32" cy="561.1" r="0.78"/><circle cx="226.21" cy="565.18" r="0.78"/><circle cx="227.59" cy="535.56" r="0.78"/><circle cx="227.16" cy="592.02" r="0.78"/><circle cx="225.92" cy="530.61" r="0.78"/><circle cx="224.2" cy="591.08" r="0.78"/><circle cx="223.43" cy="595.33" r="0.78"/><circle cx="226.36" cy="530.16" r="0.78"/><circle cx="227.62" cy="534.91" r="0.78"/><circle cx="226.38" cy="530.3" r="0.78"/><circle cx="226.49" cy="536.07" r="0.78"/><circle cx="226.27" cy="533.84" r="0.78"/><circle cx="223.59" cy="534.27" r="0.78"/><circle cx="225.31" cy="534.66" r="0.78"/><circle cx="222.81" cy="532.17" r="0.78"/><circle cx="222.36" cy="578.23" r="0.78"/><circle cx="228.5" cy="532.02" r="0.78"/><circle cx="224.68" cy="534.97" r="0.78"/><circle cx="227.61" cy="531.41" r="0.78"/><circle cx="223.91" cy="537.59" r="0.78"/></g>
<line x1="249.7" y1="525.34" x2="249.7" y2="595.94" stroke="#555" stroke-width="0.8"/>
<rect x="238.3" y="550.14" width="22.2" height="34.98" fill="#91cbb4" stroke="#5f6f68" stroke-width="0.7"/>
<line x1="238.3" y1="567.32" x2="260.5" y2="567.32" stroke="#1f2a2a" stroke-width="1.5"/>
<g fill="#222" fill-opacity="0.9"><circle cx="253.85" cy="581.42" r="0.78"/><circle cx="253.91" cy="580.25" r="0.78"/><circle cx="257.44" cy="557.58" r="0.78"/><circle cx="254.87" cy="593.57" r="0.78"/><circle cx="251.73" cy="594.23" r="0.78"/><circle cx="254.93" cy="544.16" r="0.78"/><circle cx="254.03" cy="533.41" r="0.78"/><circle cx="253.61" cy="595.32" r="0.78"/><circle cx="257.46" cy="561" r="0.78"/><circle cx="254.23" cy="527.25" r="0.78"/><circle cx="251.61" cy="573.55" r="0.78"/><circle cx="252.39" cy="557.39" r="0.78"/><circle cx="251.01" cy="589.37" r="0.78"/><circle cx="255.69" cy="595.73" r="0.78"/><circle cx="257.66" cy="590.67" r="0.78"/><circle cx="256.99" cy="592.12" r="0.78"/><circle cx="251.02" cy="590.36" r="0.78"/><circle cx="252.6" cy="552.25" r="0.78"/><circle cx="252.21" cy="551.27" r="0.78"/><circle cx="256.32" cy="593.77" r="0.78"/><circle cx="256.89" cy="552.65" r="0.78"/><circle cx="251.49" cy="551.54" r="0.78"/><circle cx="255.86" cy="558.48" r="0.78"/><circle cx="257.43" cy="570.12" r="0.78"/><circle cx="257.65" cy="584.84" r="0.78"/><circle cx="250.98" cy="552.4" r="0.78"/><circle cx="255.45" cy="595.3" r="0.78"/><circle cx="251.46" cy="543.46" r="0.78"/><circle cx="256.01" cy="580.77" r="0.78"/><circle cx="256.93" cy="588.76" r="0.78"/><circle cx="251.32" cy="568.29" r="0.78"/><circle cx="254.92" cy="576.75" r="0.78"/><circle cx="255.64" cy="571.68" r="0.78"/><circle cx="256.48" cy="589.67" r="0.78"/><circle cx="255.41" cy="577.06" r="0.78"/><circle cx="253.83" cy="558.41" r="0.78"/><circle cx="256.4" cy="575.46" r="0.78"/><circle cx="256.39" cy="530.8" r="0.78"/><circle cx="252.95" cy="562.73" r="0.78"/><circle cx="257.72" cy="593.31" r="0.78"/><circle cx="256.69" cy="553.35" r="0.78"/><circle cx="255.14" cy="579.28" r="0.78"/><circle cx="256.72" cy="527.58" r="0.78"/><circle cx="253.06" cy="560.37" r="0.78"/><circle cx="257.12" cy="572.4" r="0.78"/><circle cx="255.69" cy="576.1" r="0.78"/><circle cx="257.17" cy="560.32" r="0.78"/><circle cx="252.88" cy="544.44" r="0.78"/><circle cx="252.74" cy="595.86" r="0.78"/><circle cx="255.01" cy="572.84" r="0.78"/><circle cx="257.11" cy="543.6" r="0.78"/><circle cx="256.73" cy="594.11" r="0.78"/><circle cx="256.97" cy="544.02" r="0.78"/><circle cx="252.82" cy="562.38" r="0.78"/><circle cx="256.55" cy="540.11" r="0.78"/><circle cx="257.3" cy="554.63" r="0.78"/><circle cx="251.5" cy="578.22" r="0.78"/><circle cx="256.48" cy="563.63" r="0.78"/><circle cx="256.15" cy="587.27" r="0.78"/><circle cx="252.54" cy="532.11" r="0.78"/><circle cx="255.64" cy="559.97" r="0.78"/><circle cx="252.35" cy="569.79" r="0.78"/><circle cx="256.16" cy="584.79" r="0.78"/><circle cx="254.12" cy="546.01" r="0.78"/><circle cx="256.55" cy="592.14" r="0.78"/><circle cx="252.53" cy="547.94" r="0.78"/><circle cx="257.18" cy="561.85" r="0.78"/><circle cx="254.55" cy="536.74" r="0.78"/><circle cx="255.03" cy="568.98" r="0.78"/><circle cx="252.25" cy="587.76" r="0.78"/><circle cx="255.81" cy="588.12" r="0.78"/><circle cx="254.85" cy="577.09" r="0.78"/><circle cx="254.52" cy="574.26" r="0.78"/><circle cx="251.21" cy="589.49" r="0.78"/><circle cx="253.52" cy="525.62" r="0.78"/><circle cx="255.33" cy="591.35" r="0.78"/></g>
<line x1="279.1" y1="550.14" x2="279.1" y2="595.94" stroke="#555" stroke-width="0.8"/>
<rect x="267.2" y="570.5" width="22.3" height="17.81" fill="#6fb096" stroke="#5f6f68" stroke-width="0.7"/>
<line x1="267.2" y1="580.04" x2="289.5" y2="580.04" stroke="#1f2a2a" stroke-width="1.5"/>
<g fill="#222" fill-opacity="0.9"><circle cx="281.39" cy="567.46" r="0.78"/><circle cx="282.71" cy="576.33" r="0.78"/><circle cx="280.44" cy="579.29" r="0.78"/><circle cx="287.23" cy="594.91" r="0.78"/><circle cx="283.7" cy="561.05" r="0.78"/><circle cx="282.13" cy="577.47" r="0.78"/><circle cx="283.28" cy="568.12" r="0.78"/><circle cx="285.67" cy="554.5" r="0.78"/><circle cx="287.04" cy="564.89" r="0.78"/><circle cx="280.57" cy="588.17" r="0.78"/><circle cx="281.57" cy="589.8" r="0.78"/><circle cx="280.66" cy="593.38" r="0.78"/><circle cx="286.39" cy="577.85" r="0.78"/><circle cx="286.93" cy="581.42" r="0.78"/><circle cx="280.75" cy="557.48" r="0.78"/><circle cx="283.08" cy="576.29" r="0.78"/><circle cx="287.02" cy="592.28" r="0.78"/><circle cx="284.25" cy="588.07" r="0.78"/><circle cx="286.99" cy="574.67" r="0.78"/><circle cx="283.05" cy="573.56" r="0.78"/><circle cx="281.42" cy="581.74" r="0.78"/><circle cx="287.24" cy="552.93" r="0.78"/><circle cx="280.57" cy="589.17" r="0.78"/><circle cx="282.76" cy="588.11" r="0.78"/><circle cx="286.63" cy="558.06" r="0.78"/><circle cx="280.63" cy="563.4" r="0.78"/><circle cx="285.27" cy="567.53" r="0.78"/><circle cx="287.2" cy="574.44" r="0.78"/><circle cx="281.31" cy="594.23" r="0.78"/><circle cx="286.88" cy="570.09" r="0.78"/><circle cx="282.39" cy="573.29" r="0.78"/><circle cx="285.61" cy="576.55" r="0.78"/><circle cx="282.57" cy="592.72" r="0.78"/><circle cx="281.17" cy="588.07" r="0.78"/><circle cx="281.48" cy="580.65" r="0.78"/><circle cx="281.3" cy="588.66" r="0.78"/><circle cx="280.39" cy="573.26" r="0.78"/><circle cx="281.67" cy="571.75" r="0.78"/><circle cx="286.79" cy="594.84" r="0.78"/><circle cx="286.84" cy="589.2" r="0.78"/></g>
<line x1="203.2" y1="495.2" x2="203.2" y2="606.2" stroke="#333" stroke-width="0.9"/>
<line x1="203.2" y1="606.2" x2="295.6" y2="606.2" stroke="#333" stroke-width="0.9"/>
<line x1="201.6" y1="499.9" x2="203.2" y2="499.9" stroke="#333" stroke-width="0.7"/>
<text x="195.4" y="502.1" font-size="6.3" textLength="5.9" lengthAdjust="spacingAndGlyphs" font-weight="bold" fill="#111">10</text>
<line x1="201.6" y1="531.7" x2="203.2" y2="531.7" stroke="#333" stroke-width="0.7"/>
<text x="198.35" y="533.9" font-size="6.3" textLength="2.95" lengthAdjust="spacingAndGlyphs" font-weight="bold" fill="#111">5</text>
<line x1="201.6" y1="563.5" x2="203.2" y2="563.5" stroke="#333" stroke-width="0.7"/>
<text x="198.35" y="565.7" font-size="6.3" textLength="2.95" lengthAdjust="spacingAndGlyphs" font-weight="bold" fill="#111">0</text>
<line x1="201.6" y1="595.3" x2="203.2" y2="595.3" stroke="#333" stroke-width="0.7"/>
<text x="195.4" y="597.5" font-size="6.3" textLength="5.9" lengthAdjust="spacingAndGlyphs" font-weight="bold" fill="#111">-5</text>
<text x="250.2" y="511.23" font-size="8.6" text-anchor="middle" font-weight="bold">**</text>
<text x="279.3" y="516.33" font-size="8.6" text-anchor="middle" font-weight="bold">***</text>
<text x="188" y="553.4" font-size="7.4" font-weight="bold" fill="#222" text-anchor="middle" textLength="22.4" lengthAdjust="spacingAndGlyphs" transform="rotate(-90 188 553.4)">scaled</text>
<text x="194.8" y="552.9" font-size="7" font-weight="normal" fill="#111" text-anchor="middle" textLength="44.3" lengthAdjust="spacingAndGlyphs" transform="rotate(-90 194.8 552.9)">log2(CPM+1)</text>
<text x="220.9" y="613.8" font-size="6.2" text-anchor="middle" font-weight="bold" fill="#111">Low</text>
<text x="220.9" y="619.8" font-size="6.2" text-anchor="middle" font-weight="bold" fill="#111">( 32 )</text>
<text x="249.7" y="613.8" font-size="6.2" text-anchor="middle" font-weight="bold" fill="#111">Intermediate</text>
<text x="249.7" y="619.8" font-size="6.2" text-anchor="middle" font-weight="bold" fill="#111">( 76 )</text>
<text x="279.1" y="613.8" font-size="6.2" text-anchor="middle" font-weight="bold" fill="#111">High</text>
<text x="279.1" y="619.8" font-size="6.2" text-anchor="middle" font-weight="bold" fill="#111">( 40 )</text>
<text x="230.3" y="626.6" font-size="7.4" textLength="38" lengthAdjust="spacingAndGlyphs" font-weight="bold">Genetic risk</text>
<line x1="394.7" y1="399.2" x2="394.7" y2="574.4" stroke="#444" stroke-width="0.9"/>
<line x1="394.7" y1="574.4" x2="657.2" y2="574.4" stroke="#444" stroke-width="0.9"/>
<line x1="392.5" y1="404.8" x2="394.7" y2="404.8" stroke="#444" stroke-width="0.8"/>
<text x="373.7" y="407.9" font-size="9" textLength="18.6" lengthAdjust="spacingAndGlyphs" font-weight="bold" fill="#111">1.00</text>
<line x1="392.5" y1="445.4" x2="394.7" y2="445.4" stroke="#444" stroke-width="0.8"/>
<text x="373.7" y="448.5" font-size="9" textLength="18.6" lengthAdjust="spacingAndGlyphs" font-weight="bold" fill="#111">0.75</text>
<line x1="392.5" y1="486" x2="394.7" y2="486" stroke="#444" stroke-width="0.8"/>
<text x="373.7" y="489.1" font-size="9" textLength="18.6" lengthAdjust="spacingAndGlyphs" font-weight="bold" fill="#111">0.50</text>
<line x1="392.5" y1="526.6" x2="394.7" y2="526.6" stroke="#444" stroke-width="0.8"/>
<text x="373.7" y="529.7" font-size="9" textLength="18.6" lengthAdjust="spacingAndGlyphs" font-weight="bold" fill="#111">0.25</text>
<line x1="392.5" y1="567.2" x2="394.7" y2="567.2" stroke="#444" stroke-width="0.8"/>
<text x="373.7" y="570.3" font-size="9" textLength="18.6" lengthAdjust="spacingAndGlyphs" font-weight="bold" fill="#111">0.00</text>
<line x1="406.5" y1="574.4" x2="406.5" y2="576.6" stroke="#444" stroke-width="0.8"/>
<text x="406.5" y="582.9" font-size="8.8" text-anchor="middle" font-weight="bold" fill="#111">0</text>
<line x1="454.1" y1="574.4" x2="454.1" y2="576.6" stroke="#444" stroke-width="0.8"/>
<text x="454.1" y="582.9" font-size="8.8" text-anchor="middle" font-weight="bold" fill="#111">12</text>
<line x1="501.71" y1="574.4" x2="501.71" y2="576.6" stroke="#444" stroke-width="0.8"/>
<text x="501.71" y="582.9" font-size="8.8" text-anchor="middle" font-weight="bold" fill="#111">24</text>
<line x1="549.31" y1="574.4" x2="549.31" y2="576.6" stroke="#444" stroke-width="0.8"/>
<text x="549.31" y="582.9" font-size="8.8" text-anchor="middle" font-weight="bold" fill="#111">36</text>
<line x1="596.92" y1="574.4" x2="596.92" y2="576.6" stroke="#444" stroke-width="0.8"/>
<text x="596.92" y="582.9" font-size="8.8" text-anchor="middle" font-weight="bold" fill="#111">48</text>
<line x1="644.52" y1="574.4" x2="644.52" y2="576.6" stroke="#444" stroke-width="0.8"/>
<text x="644.52" y="582.9" font-size="8.8" text-anchor="middle" font-weight="bold" fill="#111">60</text>
<text x="369.6" y="486.4" font-size="11.4" font-weight="bold" text-anchor="middle" textLength="105.7" lengthAdjust="spacingAndGlyphs" transform="rotate(-90 369.6 486.4)">Survival probability</text>
<text x="485.9" y="594" font-size="10.76" textLength="78.1" lengthAdjust="spacingAndGlyphs" font-weight="bold">Time [months]</text>
<line x1="406.5" y1="486" x2="572.32" y2="486" stroke="#2f4f85" stroke-width="1" stroke-dasharray="3.2 3"/>
<line x1="457.67" y1="486" x2="457.67" y2="567.2" stroke="#3a5a8a" stroke-width="1" stroke-dasharray="3.2 3"/>
<line x1="572.32" y1="486" x2="572.32" y2="566.5" stroke="#4a7cc0" stroke-width="1" stroke-dasharray="3.2 3"/>
<path d="M406.5 402.8H406.7V404.14H406.9V405.49H407.1V406.83H407.3V408.17H407.5V409.51H407.7V410.86H407.9V412.2H408.1V413.54H408.3V414.89H408.5V416.23H408.7V417.57H408.9V418.91H409.1V420.26H409.3V421.6H409.74V422.91H410.19V424.23H410.63V425.54H411.07V426.86H411.51V428.17H411.96V429.49H412.4V430.8H413.15V432.07H413.9V433.35H414.65V434.62H415.4V435.9H416.43V437.23H417.46V438.56H418.49V439.89H419.52V441.22H420.55V442.55H421.58V443.88H422.61V445.21H423.64V446.54H424.67V447.87H425.7V449.2H426.72V450.44H427.74V451.69H428.77V452.93H429.79V454.18H430.81V455.42H431.83V456.67H432.86V457.91H433.88V459.16H434.9V460.4H435.4V461.77H435.9V463.13H436.4V464.5H436.9V465.87H437.4V467.23H437.9V468.6H439.42V469.88H440.95V471.15H442.48V472.43H444V473.7H445.55V474.98H447.1V476.25H448.65V477.52H450.2V478.8H451.23V480.07H452.25V481.35H453.27V482.62H454.3V483.9H456.35V484.9H458.4V485.9H460.43V487.27H462.47V488.63H464.5V490H465.92V491.24H467.34V492.48H468.76V493.72H470.18V494.96H471.6V496.2H476.2V497.2H480.8V498.2H485.9V499.75H491V501.3H494.43V502.53H497.87V503.77H501.3V505H508V506.8H517.6V507.4H521.7V508.95H525.8V510.5H531.15V511.65H536.5V512.8H539.13V514.13H541.77V515.47H544.4V516.8H547.7V518.1H551V519.4H569.4V520.7H587.8V522H619.3V523.4H656.9V524.1" stroke="#1a3462" stroke-width="2.2" fill="none" stroke-linejoin="round"/>
<path d="M406.5 402.8V410H408V418H409.5V425H411V429H412.4V431.8H425.2V434.9H427.7V437.9H437.9V441H439V444H441V448H443V451H447V454.3H449.2V456.3H452.2V458.4H476.7V461.4H496.2V465.5H502.3V468.6H508.4V472.3H524.2V478.8H549.7V482.4H572V486H603.5V490.8H656.9" stroke="#2e6ab4" stroke-width="2" fill="none" stroke-linejoin="miter"/>
<line x1="440" y1="467.36" x2="440" y2="473.36" stroke="#1a3462" stroke-width="0.9"/>
<line x1="462" y1="485.32" x2="462" y2="491.32" stroke="#1a3462" stroke-width="0.9"/>
<line x1="487" y1="497.08" x2="487" y2="503.08" stroke="#1a3462" stroke-width="0.9"/>
<line x1="494" y1="499.38" x2="494" y2="505.38" stroke="#1a3462" stroke-width="0.9"/>
<line x1="500" y1="501.53" x2="500" y2="507.53" stroke="#1a3462" stroke-width="0.9"/>
<line x1="512" y1="504.05" x2="512" y2="510.05" stroke="#1a3462" stroke-width="0.9"/>
<line x1="517" y1="504.36" x2="517" y2="510.36" stroke="#1a3462" stroke-width="0.9"/>
<line x1="521" y1="505.69" x2="521" y2="511.69" stroke="#1a3462" stroke-width="0.9"/>
<line x1="530" y1="508.4" x2="530" y2="514.4" stroke="#1a3462" stroke-width="0.9"/>
<line x1="541" y1="512.08" x2="541" y2="518.08" stroke="#1a3462" stroke-width="0.9"/>
<line x1="547" y1="514.82" x2="547" y2="520.82" stroke="#1a3462" stroke-width="0.9"/>
<line x1="556" y1="516.75" x2="556" y2="522.75" stroke="#1a3462" stroke-width="0.9"/>
<line x1="560" y1="517.04" x2="560" y2="523.04" stroke="#1a3462" stroke-width="0.9"/>
<line x1="570" y1="517.74" x2="570" y2="523.74" stroke="#1a3462" stroke-width="0.9"/>
<line x1="572" y1="517.88" x2="572" y2="523.88" stroke="#1a3462" stroke-width="0.9"/>
<line x1="592" y1="519.19" x2="592" y2="525.19" stroke="#1a3462" stroke-width="0.9"/>
<line x1="598" y1="519.45" x2="598" y2="525.45" stroke="#1a3462" stroke-width="0.9"/>
<line x1="609" y1="519.94" x2="609" y2="525.94" stroke="#1a3462" stroke-width="0.9"/>
<line x1="617" y1="520.3" x2="617" y2="526.3" stroke="#1a3462" stroke-width="0.9"/>
<line x1="630" y1="520.6" x2="630" y2="526.6" stroke="#1a3462" stroke-width="0.9"/>
<line x1="634" y1="520.67" x2="634" y2="526.67" stroke="#1a3462" stroke-width="0.9"/>
<line x1="533" y1="475.8" x2="533" y2="481.8" stroke="#2e6ab4" stroke-width="0.9"/>
<line x1="535" y1="475.8" x2="535" y2="481.8" stroke="#2e6ab4" stroke-width="0.9"/>
<line x1="573" y1="483" x2="573" y2="489" stroke="#2e6ab4" stroke-width="0.9"/>
<line x1="575" y1="483" x2="575" y2="489" stroke="#2e6ab4" stroke-width="0.9"/>
<line x1="578" y1="483" x2="578" y2="489" stroke="#2e6ab4" stroke-width="0.9"/>
<line x1="617" y1="487.8" x2="617" y2="493.8" stroke="#2e6ab4" stroke-width="0.9"/>
<text x="402.3" y="379" font-size="13.23" textLength="102.4" lengthAdjust="spacingAndGlyphs" font-weight="bold" fill="#111">MALNC ClinSeq</text>
<text x="402.3" y="391.3" font-size="12.21" textLength="195.2" lengthAdjust="spacingAndGlyphs" font-style="italic" fill="#222">OS, int. treat. AML+APL (n=267)</text>
<text x="524.7" y="431.7" font-size="12.65" textLength="116.9" lengthAdjust="spacingAndGlyphs" font-weight="bold" font-style="italic" fill="#111">Log−Rank p= 0.012</text>
<rect x="547.6" y="438.2" width="12" height="7.9" fill="#1c3664"/>
<rect x="547.6" y="449.8" width="12" height="8.2" fill="#2e69b3"/>
<text x="566" y="446.1" font-size="11.19" textLength="52" lengthAdjust="spacingAndGlyphs" font-weight="bold" fill="#111">Low exp.</text>
<text x="566" y="457.6" font-size="11.63" textLength="54.6" lengthAdjust="spacingAndGlyphs" font-weight="bold" fill="#111">High exp.</text>
<text x="459.4" y="546.9" font-size="11.92" textLength="138.9" lengthAdjust="spacingAndGlyphs" font-style="italic" fill="#222">Median OS (months, 95% CI)</text>
<text x="482.2" y="557.3" font-size="10.76" textLength="69" lengthAdjust="spacingAndGlyphs" font-style="italic" fill="#2d4f8a">12.9 (9.8-18.5)</text>
<text x="481.7" y="567.2" font-size="10.76" textLength="69.5" lengthAdjust="spacingAndGlyphs" font-style="italic" fill="#4b7fc4">41.8 (24.2-NA)</text>
<line x1="60.8" y1="683.9" x2="60.8" y2="856.2" stroke="#444" stroke-width="0.9"/>
<line x1="60.8" y1="856.2" x2="316.3" y2="856.2" stroke="#444" stroke-width="0.9"/>
<line x1="58.6" y1="690.9" x2="60.8" y2="690.9" stroke="#444" stroke-width="0.8"/>
<text x="39.9" y="694" font-size="9" textLength="18.6" lengthAdjust="spacingAndGlyphs" font-weight="bold" fill="#111">1.00</text>
<line x1="58.6" y1="730.38" x2="60.8" y2="730.38" stroke="#444" stroke-width="0.8"/>
<text x="39.9" y="733.48" font-size="9" textLength="18.6" lengthAdjust="spacingAndGlyphs" font-weight="bold" fill="#111">0.75</text>
<line x1="58.6" y1="769.85" x2="60.8" y2="769.85" stroke="#444" stroke-width="0.8"/>
<text x="39.9" y="772.95" font-size="9" textLength="18.6" lengthAdjust="spacingAndGlyphs" font-weight="bold" fill="#111">0.50</text>
<line x1="58.6" y1="809.32" x2="60.8" y2="809.32" stroke="#444" stroke-width="0.8"/>
<text x="39.9" y="812.42" font-size="9" textLength="18.6" lengthAdjust="spacingAndGlyphs" font-weight="bold" fill="#111">0.25</text>
<line x1="58.6" y1="848.8" x2="60.8" y2="848.8" stroke="#444" stroke-width="0.8"/>
<text x="39.9" y="851.9" font-size="9" textLength="18.6" lengthAdjust="spacingAndGlyphs" font-weight="bold" fill="#111">0.00</text>
<line x1="72.4" y1="856.2" x2="72.4" y2="858.4" stroke="#444" stroke-width="0.8"/>
<text x="72.4" y="864.1" font-size="8.8" text-anchor="middle" font-weight="bold" fill="#111">0</text>
<line x1="118.79" y1="856.2" x2="118.79" y2="858.4" stroke="#444" stroke-width="0.8"/>
<text x="118.79" y="864.1" font-size="8.8" text-anchor="middle" font-weight="bold" fill="#111">12</text>
<line x1="165.18" y1="856.2" x2="165.18" y2="858.4" stroke="#444" stroke-width="0.8"/>
<text x="165.18" y="864.1" font-size="8.8" text-anchor="middle" font-weight="bold" fill="#111">24</text>
<line x1="211.58" y1="856.2" x2="211.58" y2="858.4" stroke="#444" stroke-width="0.8"/>
<text x="211.58" y="864.1" font-size="8.8" text-anchor="middle" font-weight="bold" fill="#111">36</text>
<line x1="257.97" y1="856.2" x2="257.97" y2="858.4" stroke="#444" stroke-width="0.8"/>
<text x="257.97" y="864.1" font-size="8.8" text-anchor="middle" font-weight="bold" fill="#111">48</text>
<line x1="304.36" y1="856.2" x2="304.36" y2="858.4" stroke="#444" stroke-width="0.8"/>
<text x="304.36" y="864.1" font-size="8.8" text-anchor="middle" font-weight="bold" fill="#111">60</text>
<text x="37.2" y="769.3" font-size="11.4" font-weight="bold" text-anchor="middle" textLength="104.5" lengthAdjust="spacingAndGlyphs" transform="rotate(-90 37.2 769.3)">Survival probability</text>
<text x="150.9" y="874.6" font-size="10.9" textLength="75.1" lengthAdjust="spacingAndGlyphs" font-weight="bold">Time [months]</text>
<line x1="72.4" y1="769.85" x2="211.58" y2="769.85" stroke="#2f4f85" stroke-width="1" stroke-dasharray="3.2 3"/>
<line x1="118.02" y1="769.85" x2="118.02" y2="848.8" stroke="#3a5a8a" stroke-width="1" stroke-dasharray="3.2 3"/>
<line x1="211.58" y1="769.85" x2="211.58" y2="834" stroke="#4a7cc0" stroke-width="1" stroke-dasharray="3.2 3"/>
<path d="M72.4 688.8H72.61V690.07H72.81V691.34H73.02V692.61H73.23V693.89H73.44V695.16H73.64V696.43H73.85V697.7H74.06V698.97H74.26V700.24H74.47V701.51H74.68V702.79H74.89V704.06H75.09V705.33H75.3V706.6H75.82V707.95H76.33V709.3H76.85V710.65H77.37V712H77.88V713.35H78.4V714.7H79.08V716.07H79.77V717.43H80.45V718.8H81.13V720.17H81.82V721.53H82.5V722.9H83.53V724.17H84.55V725.45H85.58V726.73H86.6V728H87.62V729.27H88.65V730.55H89.67V731.83H90.7V733.1H91.72V734.47H92.74V735.83H93.77V737.2H94.79V738.57H95.81V739.93H96.83V741.3H97.86V742.67H98.88V744.03H99.9V745.4H100.57V746.77H101.23V748.13H101.9V749.5H102.57V750.87H103.23V752.23H103.9V753.6H105.45V754.88H107V756.15H108.55V757.43H110.1V758.7H111.32V760.12H112.54V761.54H113.76V762.96H114.98V764.38H116.2V765.8H117.75V767.35H119.3V768.9H122.35V770.45H125.4V772H127.43V773.37H129.47V774.73H131.5V776.1H133.2V777.6H134.9V779.1H136.6V780.6H145.8V782.2H149.23V783.57H152.67V784.93H156.1V786.3H161.2V787.8H166.3V789.3H172.4V790.65H178.5V792H182.6V793.37H186.7V794.73H190.8V796.1H199.4V797.1H202.35V798.42H205.3V799.75H208.25V801.08H211.2V802.4H221.1V803.7H231V805H252V806.3H280.9V807.6H305.8V808.2" stroke="#1a3462" stroke-width="2.2" fill="none" stroke-linejoin="round"/>
<path d="M72.4 688.8V696H74V704H75.5V709H77V711H78.4V713.1H90.7V717.2H92.7V720.9H102.9V723.9H104.6V727H106V730H108V733.1H110V736.2H113.1V739.3H115.2V742.3H117.2V744.4H141.7V747.4H160.1V751.5H165.9V756H172.4V759.3H187.7V766.9H211.2V771.4H234.9V776.1H263.8V780.6H305.8" stroke="#2e6ab4" stroke-width="2" fill="none" stroke-linejoin="miter"/>
<line x1="96" y1="737.19" x2="96" y2="743.19" stroke="#1a3462" stroke-width="0.9"/>
<line x1="106" y1="752.33" x2="106" y2="758.33" stroke="#1a3462" stroke-width="0.9"/>
<line x1="122" y1="767.27" x2="122" y2="773.27" stroke="#1a3462" stroke-width="0.9"/>
<line x1="129" y1="771.42" x2="129" y2="777.42" stroke="#1a3462" stroke-width="0.9"/>
<line x1="138" y1="777.84" x2="138" y2="783.84" stroke="#1a3462" stroke-width="0.9"/>
<line x1="150" y1="780.87" x2="150" y2="786.87" stroke="#1a3462" stroke-width="0.9"/>
<line x1="158" y1="783.86" x2="158" y2="789.86" stroke="#1a3462" stroke-width="0.9"/>
<line x1="163" y1="785.33" x2="163" y2="791.33" stroke="#1a3462" stroke-width="0.9"/>
<line x1="176" y1="788.45" x2="176" y2="794.45" stroke="#1a3462" stroke-width="0.9"/>
<line x1="186" y1="791.5" x2="186" y2="797.5" stroke="#1a3462" stroke-width="0.9"/>
<line x1="194" y1="793.47" x2="194" y2="799.47" stroke="#1a3462" stroke-width="0.9"/>
<line x1="204" y1="796.17" x2="204" y2="802.17" stroke="#1a3462" stroke-width="0.9"/>
<line x1="210" y1="798.86" x2="210" y2="804.86" stroke="#1a3462" stroke-width="0.9"/>
<line x1="228" y1="801.61" x2="228" y2="807.61" stroke="#1a3462" stroke-width="0.9"/>
<line x1="236" y1="802.31" x2="236" y2="808.31" stroke="#1a3462" stroke-width="0.9"/>
<line x1="250" y1="803.18" x2="250" y2="809.18" stroke="#1a3462" stroke-width="0.9"/>
<line x1="258" y1="803.57" x2="258" y2="809.57" stroke="#1a3462" stroke-width="0.9"/>
<line x1="266" y1="803.93" x2="266" y2="809.93" stroke="#1a3462" stroke-width="0.9"/>
<line x1="282" y1="804.63" x2="282" y2="810.63" stroke="#1a3462" stroke-width="0.9"/>
<line x1="290" y1="804.82" x2="290" y2="810.82" stroke="#1a3462" stroke-width="0.9"/>
<line x1="296" y1="804.96" x2="296" y2="810.96" stroke="#1a3462" stroke-width="0.9"/>
<line x1="196" y1="763.9" x2="196" y2="769.9" stroke="#2e6ab4" stroke-width="0.9"/>
<line x1="200" y1="763.9" x2="200" y2="769.9" stroke="#2e6ab4" stroke-width="0.9"/>
<line x1="213" y1="768.4" x2="213" y2="774.4" stroke="#2e6ab4" stroke-width="0.9"/>
<line x1="236" y1="773.1" x2="236" y2="779.1" stroke="#2e6ab4" stroke-width="0.9"/>
<line x1="266" y1="777.6" x2="266" y2="783.6" stroke="#2e6ab4" stroke-width="0.9"/>
<line x1="270" y1="777.6" x2="270" y2="783.6" stroke="#2e6ab4" stroke-width="0.9"/>
<text x="72" y="657.5" font-size="13.23" textLength="102" lengthAdjust="spacingAndGlyphs" font-weight="bold" fill="#111">MALNC ClinSeq</text>
<text x="71.8" y="669.8" font-size="12.79" textLength="249.2" lengthAdjust="spacingAndGlyphs" font-style="italic" fill="#222">OS, int. treat. only non−APL AML (n=257)</text>
<text x="177.5" y="707" font-size="11.92" textLength="115.8" lengthAdjust="spacingAndGlyphs" font-weight="bold" font-style="italic" fill="#111">Log−Rank p= 0.039</text>
<rect x="208.6" y="712.9" width="12.2" height="8.7" fill="#1c3664"/>
<rect x="208.6" y="724.7" width="12.2" height="9.1" fill="#2e69b3"/>
<text x="226.3" y="721.6" font-size="12.35" textLength="51.3" lengthAdjust="spacingAndGlyphs" font-weight="bold" fill="#111">Low exp.</text>
<text x="226.3" y="733.4" font-size="12.94" textLength="54.4" lengthAdjust="spacingAndGlyphs" font-weight="bold" fill="#111">High exp.</text>
<text x="123.6" y="831.9" font-size="10.9" textLength="140.7" lengthAdjust="spacingAndGlyphs" font-style="italic" fill="#222">Median OS (months, 95% CI)</text>
<text x="147.1" y="841.6" font-size="10.47" textLength="69.5" lengthAdjust="spacingAndGlyphs" font-style="italic" fill="#2d4f8a">11.8 (9.8-18.0)</text>
<text x="147.1" y="851.7" font-size="10.76" textLength="69.5" lengthAdjust="spacingAndGlyphs" font-style="italic" fill="#4b7fc4">36.0 (22.6-NA)</text>
<text x="411.2" y="659.1" font-size="8.28" textLength="32.6" lengthAdjust="spacingAndGlyphs" font-weight="bold" fill="#444">Clinseq</text>
<text x="363.6" y="669" font-size="8.14" textLength="31.1" lengthAdjust="spacingAndGlyphs" font-weight="bold" fill="#111">Variable</text>
<text x="597.2" y="669.6" font-size="7.27" textLength="46.6" lengthAdjust="spacingAndGlyphs" font-weight="bold" fill="#111">HR (95% CI)</text>
<text x="655.9" y="669.6" font-size="7.3" textLength="30.5" lengthAdjust="spacingAndGlyphs" font-weight="bold" fill="#111">P-value</text>
<line x1="502.4" y1="677.6" x2="502.4" y2="853.2" stroke="#777" stroke-width="0.7" stroke-dasharray="1 1.4"/>
<text x="405" y="681.6" font-size="6.1" text-anchor="end" font-weight="bold" fill="#222">Age</text>
<text x="407.2" y="689" font-size="5.9" text-anchor="end" font-style="italic" fill="#222">(continuous, per year)</text>
<line x1="502.97" y1="683.6" x2="504.65" y2="683.6" stroke="#222" stroke-width="1.15"/>
<rect x="502.6" y="681.3" width="3" height="4.6" fill="#000"/>
<text x="596.9" y="685.8" font-size="5.9" font-weight="bold" fill="#222">1.03</text>
<text x="610.6" y="685.8" font-size="6" textLength="35.4" lengthAdjust="spacingAndGlyphs" fill="#444">(1.01 to 1.04)</text>
<text x="656.3" y="685.8" font-size="5.8" font-weight="bold" fill="#222">&lt; 0.001</text>
<text x="405" y="697.57" font-size="6.1" text-anchor="end" font-weight="bold" fill="#222">WHO</text>
<text x="407.2" y="704.97" font-size="5.9" text-anchor="end" font-style="italic" fill="#222">(2–4 vs 0–1)</text>
<line x1="523.73" y1="699.77" x2="574.64" y2="699.77" stroke="#6a6a6a" stroke-width="1.15"/>
<rect x="547.7" y="697.47" width="3" height="4.6" fill="#000"/>
<text x="596.9" y="701.83" font-size="5.9" font-weight="bold" fill="#222">2.26</text>
<text x="610.6" y="701.83" font-size="6" textLength="35.4" lengthAdjust="spacingAndGlyphs" fill="#444">(1.45 to 3.52)</text>
<text x="656.3" y="701.83" font-size="5.8" font-weight="bold" fill="#222">&lt; 0.001</text>
<text x="405" y="713.54" font-size="6.1" text-anchor="end" font-weight="bold" fill="#222">Normal karyotype</text>
<text x="407.2" y="720.94" font-size="5.9" text-anchor="end" font-style="italic" fill="#222">(yes vs no)</text>
<line x1="461.45" y1="715.94" x2="511.9" y2="715.94" stroke="#444" stroke-width="1.15"/>
<rect x="485.15" y="713.64" width="3" height="4.6" fill="#000"/>
<text x="596.9" y="717.86" font-size="5.9" font-weight="bold" fill="#222">0.76</text>
<text x="610.6" y="717.86" font-size="6" textLength="35.4" lengthAdjust="spacingAndGlyphs" fill="#444">(0.49 to 1.18)</text>
<text x="656.3" y="717.86" font-size="5.8" font-weight="bold" fill="#222">0.23</text>
<text x="405" y="729.51" font-size="6.1" text-anchor="end" font-weight="bold" fill="#222">Etiology</text>
<text x="407.2" y="736.91" font-size="5.9" text-anchor="end" font-style="italic" fill="#222">(s−/t−AML vs de novo)</text>
<line x1="506.28" y1="732.11" x2="553.84" y2="732.11" stroke="#222" stroke-width="1.15"/>
<rect x="528.59" y="729.81" width="3" height="4.6" fill="#000"/>
<text x="596.9" y="733.89" font-size="5.9" font-weight="bold" fill="#222">1.62</text>
<text x="610.6" y="733.89" font-size="6" textLength="35.4" lengthAdjust="spacingAndGlyphs" fill="#444">(1.07 to 2.45)</text>
<text x="656.3" y="733.89" font-size="5.8" font-weight="bold" fill="#222">0.02</text>
<text x="405" y="745.48" font-size="6.1" text-anchor="end" font-weight="bold" fill="#222">FLT3−ITD</text>
<text x="407.2" y="752.88" font-size="5.9" text-anchor="end" font-style="italic" fill="#222">(mut vs wt)</text>
<line x1="519.2" y1="748.28" x2="568.08" y2="748.28" stroke="#222" stroke-width="1.15"/>
<rect x="542.1" y="745.98" width="3" height="4.6" fill="#000"/>
<text x="596.9" y="749.92" font-size="5.9" font-weight="bold" fill="#222">2.05</text>
<text x="610.6" y="749.92" font-size="6" textLength="35.4" lengthAdjust="spacingAndGlyphs" fill="#444">(1.34 to 3.14)</text>
<text x="656.3" y="749.92" font-size="5.8" font-weight="bold" fill="#222">0.001</text>
<text x="405" y="761.45" font-size="6.1" text-anchor="end" font-weight="bold" fill="#222">NPM1</text>
<text x="407.2" y="768.85" font-size="5.9" text-anchor="end" font-style="italic" fill="#222">(mut vs wt)</text>
<line x1="448.35" y1="764.45" x2="509.42" y2="764.45" stroke="#222" stroke-width="1.15"/>
<rect x="477.05" y="762.15" width="3" height="4.6" fill="#000"/>
<text x="596.9" y="765.95" font-size="5.9" font-weight="bold" fill="#222">0.66</text>
<text x="610.6" y="765.95" font-size="6" textLength="35.4" lengthAdjust="spacingAndGlyphs" fill="#444">(0.39 to 1.13)</text>
<text x="656.3" y="765.95" font-size="5.8" font-weight="bold" fill="#222">0.13</text>
<text x="405" y="777.42" font-size="6.1" text-anchor="end" font-weight="bold" fill="#222">CEBPA</text>
<text x="407.2" y="784.82" font-size="5.9" text-anchor="end" font-style="italic" fill="#222">(double−mut vs wt)</text>
<line x1="418.04" y1="780.62" x2="538.33" y2="780.62" stroke="#3a3a3a" stroke-width="1.15"/>
<rect x="477.05" y="778.32" width="3" height="4.6" fill="#000"/>
<text x="596.9" y="781.98" font-size="5.9" font-weight="bold" fill="#222">0.66</text>
<text x="610.6" y="781.98" font-size="6" textLength="35.4" lengthAdjust="spacingAndGlyphs" fill="#444">(0.23 to 1.87)</text>
<text x="656.3" y="781.98" font-size="5.8" font-weight="bold" fill="#222">0.43</text>
<text x="405" y="793.39" font-size="6.1" text-anchor="end" font-weight="bold" fill="#222">TP53</text>
<text x="407.2" y="800.79" font-size="5.9" text-anchor="end" font-style="italic" fill="#222">(mut vs wt)</text>
<line x1="509.42" y1="796.79" x2="574.96" y2="796.79" stroke="#6a6a6a" stroke-width="1.15"/>
<rect x="540.69" y="794.49" width="3" height="4.6" fill="#000"/>
<text x="596.9" y="798.01" font-size="5.9" font-weight="bold" fill="#222">2.00</text>
<text x="610.6" y="798.01" font-size="6" textLength="35.4" lengthAdjust="spacingAndGlyphs" fill="#444">(1.13 to 3.54)</text>
<text x="656.3" y="798.01" font-size="5.8" font-weight="bold" fill="#222">0.02</text>
<text x="405" y="809.36" font-size="6.1" text-anchor="end" font-weight="bold" fill="#222">ASXL1</text>
<text x="407.2" y="816.76" font-size="5.9" text-anchor="end" font-style="italic" fill="#222">(mut vs wt)</text>
<line x1="487.4" y1="812.96" x2="552.17" y2="812.96" stroke="#6a6a6a" stroke-width="1.15"/>
<rect x="518.55" y="810.66" width="3" height="4.6" fill="#000"/>
<text x="596.9" y="814.04" font-size="5.9" font-weight="bold" fill="#222">1.36</text>
<text x="610.6" y="814.04" font-size="6" textLength="35.4" lengthAdjust="spacingAndGlyphs" fill="#444">(0.77 to 2.38)</text>
<text x="656.3" y="814.04" font-size="5.8" font-weight="bold" fill="#222">0.29</text>
<text x="405" y="825.33" font-size="6.1" text-anchor="end" font-weight="bold" fill="#222">RUNX1</text>
<text x="407.2" y="832.73" font-size="5.9" text-anchor="end" font-style="italic" fill="#222">(mut vs wt)</text>
<line x1="440.48" y1="829.13" x2="504.65" y2="829.13" stroke="#222" stroke-width="1.15"/>
<rect x="470.61" y="826.83" width="3" height="4.6" fill="#000"/>
<text x="596.9" y="830.07" font-size="5.9" font-weight="bold" fill="#222">0.59</text>
<text x="610.6" y="830.07" font-size="6" textLength="35.4" lengthAdjust="spacingAndGlyphs" fill="#444">(0.34 to 1.04)</text>
<text x="656.3" y="830.07" font-size="5.8" font-weight="bold" fill="#222">0.07</text>
<text x="405" y="841.3" font-size="6.1" text-anchor="end" font-weight="bold" fill="#222">MALNC</text>
<text x="407.2" y="848.7" font-size="5.9" text-anchor="end" font-style="italic" fill="#222">(above vs below median)</text>
<line x1="453.96" y1="845.3" x2="498.23" y2="845.3" stroke="#222" stroke-width="1.15"/>
<rect x="474.38" y="843" width="3" height="4.6" fill="#000"/>
<text x="596.9" y="846.1" font-size="5.9" font-weight="bold" fill="#222">0.63</text>
<text x="610.6" y="846.1" font-size="6" textLength="35.4" lengthAdjust="spacingAndGlyphs" fill="#444">(0.43 to 0.93)</text>
<text x="656.3" y="846.1" font-size="5.8" font-weight="bold" fill="#222">0.02</text>
<line x1="410.8" y1="670.4" x2="410.8" y2="853.6" stroke="#333" stroke-width="1.1"/>
<line x1="410.8" y1="853.4" x2="593.3" y2="853.4" stroke="#333" stroke-width="1.1"/>
<line x1="410.02" y1="853.4" x2="410.02" y2="856" stroke="#333" stroke-width="0.8"/>
<text x="410.02" y="867" font-size="6.5" text-anchor="middle" font-weight="bold" fill="#222">0.2</text>
<line x1="462.61" y1="853.4" x2="462.61" y2="856" stroke="#333" stroke-width="0.8"/>
<text x="462.61" y="867" font-size="6.5" text-anchor="middle" font-weight="bold" fill="#222">0.5</text>
<line x1="502.4" y1="853.4" x2="502.4" y2="856" stroke="#333" stroke-width="0.8"/>
<text x="502.4" y="867" font-size="6.5" text-anchor="middle" font-weight="bold" fill="#222">1</text>
<line x1="542.19" y1="853.4" x2="542.19" y2="856" stroke="#333" stroke-width="0.8"/>
<text x="542.19" y="867" font-size="6.5" text-anchor="middle" font-weight="bold" fill="#222">2</text>
<line x1="581.97" y1="853.4" x2="581.97" y2="856" stroke="#333" stroke-width="0.8"/>
<text x="581.97" y="867" font-size="6.5" text-anchor="middle" font-weight="bold" fill="#222">4</text>
<text x="471.5" y="873.6" font-size="8.58" textLength="85.6" lengthAdjust="spacingAndGlyphs" font-weight="bold" fill="#111">Hazard Ratio (95% CI)</text>
</svg></body></html>
